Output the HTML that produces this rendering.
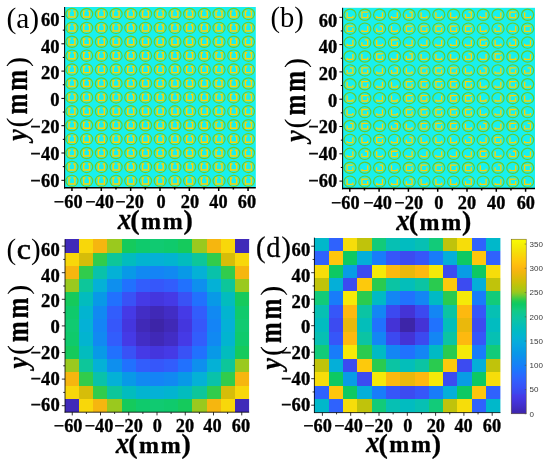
<!DOCTYPE html>
<html lang="en"><head><meta charset="utf-8"><title>Figure</title>
<style>html,body{margin:0;padding:0;background:#fff}svg{display:block}text{white-space:pre}</style>
</head><body>
<svg width="550" height="463" viewBox="0 0 550 463">
<defs><filter id="soft" x="0" y="0" width="100%" height="100%" filterUnits="userSpaceOnUse" color-interpolation-filters="sRGB"><feGaussianBlur stdDeviation="0.45"/></filter></defs>
<g filter="url(#soft)">
<rect x="-5" y="-5" width="560" height="473" fill="#fff"/>
<rect x="64.6" y="7" width="191.2" height="180.8" fill="#18f0ee"/>
<g fill="none" stroke="#70cc24" stroke-width="1.15"><ellipse cx="71.95" cy="13.95" rx="6.05" ry="5.65"/><ellipse cx="86.66" cy="13.95" rx="6.05" ry="5.65"/><ellipse cx="101.37" cy="13.95" rx="6.05" ry="5.65"/><ellipse cx="116.08" cy="13.95" rx="6.05" ry="5.65"/><ellipse cx="130.78" cy="13.95" rx="6.05" ry="5.65"/><ellipse cx="145.49" cy="13.95" rx="6.05" ry="5.65"/><ellipse cx="160.2" cy="13.95" rx="6.05" ry="5.65"/><ellipse cx="174.91" cy="13.95" rx="6.05" ry="5.65"/><ellipse cx="189.62" cy="13.95" rx="6.05" ry="5.65"/><ellipse cx="204.32" cy="13.95" rx="6.05" ry="5.65"/><ellipse cx="219.03" cy="13.95" rx="6.05" ry="5.65"/><ellipse cx="233.74" cy="13.95" rx="6.05" ry="5.65"/><ellipse cx="248.45" cy="13.95" rx="6.05" ry="5.65"/><ellipse cx="71.95" cy="27.86" rx="6.05" ry="5.65"/><ellipse cx="86.66" cy="27.86" rx="6.05" ry="5.65"/><ellipse cx="101.37" cy="27.86" rx="6.05" ry="5.65"/><ellipse cx="116.08" cy="27.86" rx="6.05" ry="5.65"/><ellipse cx="130.78" cy="27.86" rx="6.05" ry="5.65"/><ellipse cx="145.49" cy="27.86" rx="6.05" ry="5.65"/><ellipse cx="160.2" cy="27.86" rx="6.05" ry="5.65"/><ellipse cx="174.91" cy="27.86" rx="6.05" ry="5.65"/><ellipse cx="189.62" cy="27.86" rx="6.05" ry="5.65"/><ellipse cx="204.32" cy="27.86" rx="6.05" ry="5.65"/><ellipse cx="219.03" cy="27.86" rx="6.05" ry="5.65"/><ellipse cx="233.74" cy="27.86" rx="6.05" ry="5.65"/><ellipse cx="248.45" cy="27.86" rx="6.05" ry="5.65"/><ellipse cx="71.95" cy="41.77" rx="6.05" ry="5.65"/><ellipse cx="86.66" cy="41.77" rx="6.05" ry="5.65"/><ellipse cx="101.37" cy="41.77" rx="6.05" ry="5.65"/><ellipse cx="116.08" cy="41.77" rx="6.05" ry="5.65"/><ellipse cx="130.78" cy="41.77" rx="6.05" ry="5.65"/><ellipse cx="145.49" cy="41.77" rx="6.05" ry="5.65"/><ellipse cx="160.2" cy="41.77" rx="6.05" ry="5.65"/><ellipse cx="174.91" cy="41.77" rx="6.05" ry="5.65"/><ellipse cx="189.62" cy="41.77" rx="6.05" ry="5.65"/><ellipse cx="204.32" cy="41.77" rx="6.05" ry="5.65"/><ellipse cx="219.03" cy="41.77" rx="6.05" ry="5.65"/><ellipse cx="233.74" cy="41.77" rx="6.05" ry="5.65"/><ellipse cx="248.45" cy="41.77" rx="6.05" ry="5.65"/><ellipse cx="71.95" cy="55.68" rx="6.05" ry="5.65"/><ellipse cx="86.66" cy="55.68" rx="6.05" ry="5.65"/><ellipse cx="101.37" cy="55.68" rx="6.05" ry="5.65"/><ellipse cx="116.08" cy="55.68" rx="6.05" ry="5.65"/><ellipse cx="130.78" cy="55.68" rx="6.05" ry="5.65"/><ellipse cx="145.49" cy="55.68" rx="6.05" ry="5.65"/><ellipse cx="160.2" cy="55.68" rx="6.05" ry="5.65"/><ellipse cx="174.91" cy="55.68" rx="6.05" ry="5.65"/><ellipse cx="189.62" cy="55.68" rx="6.05" ry="5.65"/><ellipse cx="204.32" cy="55.68" rx="6.05" ry="5.65"/><ellipse cx="219.03" cy="55.68" rx="6.05" ry="5.65"/><ellipse cx="233.74" cy="55.68" rx="6.05" ry="5.65"/><ellipse cx="248.45" cy="55.68" rx="6.05" ry="5.65"/><ellipse cx="71.95" cy="69.58" rx="6.05" ry="5.65"/><ellipse cx="86.66" cy="69.58" rx="6.05" ry="5.65"/><ellipse cx="101.37" cy="69.58" rx="6.05" ry="5.65"/><ellipse cx="116.08" cy="69.58" rx="6.05" ry="5.65"/><ellipse cx="130.78" cy="69.58" rx="6.05" ry="5.65"/><ellipse cx="145.49" cy="69.58" rx="6.05" ry="5.65"/><ellipse cx="160.2" cy="69.58" rx="6.05" ry="5.65"/><ellipse cx="174.91" cy="69.58" rx="6.05" ry="5.65"/><ellipse cx="189.62" cy="69.58" rx="6.05" ry="5.65"/><ellipse cx="204.32" cy="69.58" rx="6.05" ry="5.65"/><ellipse cx="219.03" cy="69.58" rx="6.05" ry="5.65"/><ellipse cx="233.74" cy="69.58" rx="6.05" ry="5.65"/><ellipse cx="248.45" cy="69.58" rx="6.05" ry="5.65"/><ellipse cx="71.95" cy="83.49" rx="6.05" ry="5.65"/><ellipse cx="86.66" cy="83.49" rx="6.05" ry="5.65"/><ellipse cx="101.37" cy="83.49" rx="6.05" ry="5.65"/><ellipse cx="116.08" cy="83.49" rx="6.05" ry="5.65"/><ellipse cx="130.78" cy="83.49" rx="6.05" ry="5.65"/><ellipse cx="145.49" cy="83.49" rx="6.05" ry="5.65"/><ellipse cx="160.2" cy="83.49" rx="6.05" ry="5.65"/><ellipse cx="174.91" cy="83.49" rx="6.05" ry="5.65"/><ellipse cx="189.62" cy="83.49" rx="6.05" ry="5.65"/><ellipse cx="204.32" cy="83.49" rx="6.05" ry="5.65"/><ellipse cx="219.03" cy="83.49" rx="6.05" ry="5.65"/><ellipse cx="233.74" cy="83.49" rx="6.05" ry="5.65"/><ellipse cx="248.45" cy="83.49" rx="6.05" ry="5.65"/><ellipse cx="71.95" cy="97.4" rx="6.05" ry="5.65"/><ellipse cx="86.66" cy="97.4" rx="6.05" ry="5.65"/><ellipse cx="101.37" cy="97.4" rx="6.05" ry="5.65"/><ellipse cx="116.08" cy="97.4" rx="6.05" ry="5.65"/><ellipse cx="130.78" cy="97.4" rx="6.05" ry="5.65"/><ellipse cx="145.49" cy="97.4" rx="6.05" ry="5.65"/><ellipse cx="160.2" cy="97.4" rx="6.05" ry="5.65"/><ellipse cx="174.91" cy="97.4" rx="6.05" ry="5.65"/><ellipse cx="189.62" cy="97.4" rx="6.05" ry="5.65"/><ellipse cx="204.32" cy="97.4" rx="6.05" ry="5.65"/><ellipse cx="219.03" cy="97.4" rx="6.05" ry="5.65"/><ellipse cx="233.74" cy="97.4" rx="6.05" ry="5.65"/><ellipse cx="248.45" cy="97.4" rx="6.05" ry="5.65"/><ellipse cx="71.95" cy="111.31" rx="6.05" ry="5.65"/><ellipse cx="86.66" cy="111.31" rx="6.05" ry="5.65"/><ellipse cx="101.37" cy="111.31" rx="6.05" ry="5.65"/><ellipse cx="116.08" cy="111.31" rx="6.05" ry="5.65"/><ellipse cx="130.78" cy="111.31" rx="6.05" ry="5.65"/><ellipse cx="145.49" cy="111.31" rx="6.05" ry="5.65"/><ellipse cx="160.2" cy="111.31" rx="6.05" ry="5.65"/><ellipse cx="174.91" cy="111.31" rx="6.05" ry="5.65"/><ellipse cx="189.62" cy="111.31" rx="6.05" ry="5.65"/><ellipse cx="204.32" cy="111.31" rx="6.05" ry="5.65"/><ellipse cx="219.03" cy="111.31" rx="6.05" ry="5.65"/><ellipse cx="233.74" cy="111.31" rx="6.05" ry="5.65"/><ellipse cx="248.45" cy="111.31" rx="6.05" ry="5.65"/><ellipse cx="71.95" cy="125.22" rx="6.05" ry="5.65"/><ellipse cx="86.66" cy="125.22" rx="6.05" ry="5.65"/><ellipse cx="101.37" cy="125.22" rx="6.05" ry="5.65"/><ellipse cx="116.08" cy="125.22" rx="6.05" ry="5.65"/><ellipse cx="130.78" cy="125.22" rx="6.05" ry="5.65"/><ellipse cx="145.49" cy="125.22" rx="6.05" ry="5.65"/><ellipse cx="160.2" cy="125.22" rx="6.05" ry="5.65"/><ellipse cx="174.91" cy="125.22" rx="6.05" ry="5.65"/><ellipse cx="189.62" cy="125.22" rx="6.05" ry="5.65"/><ellipse cx="204.32" cy="125.22" rx="6.05" ry="5.65"/><ellipse cx="219.03" cy="125.22" rx="6.05" ry="5.65"/><ellipse cx="233.74" cy="125.22" rx="6.05" ry="5.65"/><ellipse cx="248.45" cy="125.22" rx="6.05" ry="5.65"/><ellipse cx="71.95" cy="139.12" rx="6.05" ry="5.65"/><ellipse cx="86.66" cy="139.12" rx="6.05" ry="5.65"/><ellipse cx="101.37" cy="139.12" rx="6.05" ry="5.65"/><ellipse cx="116.08" cy="139.12" rx="6.05" ry="5.65"/><ellipse cx="130.78" cy="139.12" rx="6.05" ry="5.65"/><ellipse cx="145.49" cy="139.12" rx="6.05" ry="5.65"/><ellipse cx="160.2" cy="139.12" rx="6.05" ry="5.65"/><ellipse cx="174.91" cy="139.12" rx="6.05" ry="5.65"/><ellipse cx="189.62" cy="139.12" rx="6.05" ry="5.65"/><ellipse cx="204.32" cy="139.12" rx="6.05" ry="5.65"/><ellipse cx="219.03" cy="139.12" rx="6.05" ry="5.65"/><ellipse cx="233.74" cy="139.12" rx="6.05" ry="5.65"/><ellipse cx="248.45" cy="139.12" rx="6.05" ry="5.65"/><ellipse cx="71.95" cy="153.03" rx="6.05" ry="5.65"/><ellipse cx="86.66" cy="153.03" rx="6.05" ry="5.65"/><ellipse cx="101.37" cy="153.03" rx="6.05" ry="5.65"/><ellipse cx="116.08" cy="153.03" rx="6.05" ry="5.65"/><ellipse cx="130.78" cy="153.03" rx="6.05" ry="5.65"/><ellipse cx="145.49" cy="153.03" rx="6.05" ry="5.65"/><ellipse cx="160.2" cy="153.03" rx="6.05" ry="5.65"/><ellipse cx="174.91" cy="153.03" rx="6.05" ry="5.65"/><ellipse cx="189.62" cy="153.03" rx="6.05" ry="5.65"/><ellipse cx="204.32" cy="153.03" rx="6.05" ry="5.65"/><ellipse cx="219.03" cy="153.03" rx="6.05" ry="5.65"/><ellipse cx="233.74" cy="153.03" rx="6.05" ry="5.65"/><ellipse cx="248.45" cy="153.03" rx="6.05" ry="5.65"/><ellipse cx="71.95" cy="166.94" rx="6.05" ry="5.65"/><ellipse cx="86.66" cy="166.94" rx="6.05" ry="5.65"/><ellipse cx="101.37" cy="166.94" rx="6.05" ry="5.65"/><ellipse cx="116.08" cy="166.94" rx="6.05" ry="5.65"/><ellipse cx="130.78" cy="166.94" rx="6.05" ry="5.65"/><ellipse cx="145.49" cy="166.94" rx="6.05" ry="5.65"/><ellipse cx="160.2" cy="166.94" rx="6.05" ry="5.65"/><ellipse cx="174.91" cy="166.94" rx="6.05" ry="5.65"/><ellipse cx="189.62" cy="166.94" rx="6.05" ry="5.65"/><ellipse cx="204.32" cy="166.94" rx="6.05" ry="5.65"/><ellipse cx="219.03" cy="166.94" rx="6.05" ry="5.65"/><ellipse cx="233.74" cy="166.94" rx="6.05" ry="5.65"/><ellipse cx="248.45" cy="166.94" rx="6.05" ry="5.65"/><ellipse cx="71.95" cy="180.85" rx="6.05" ry="5.65"/><ellipse cx="86.66" cy="180.85" rx="6.05" ry="5.65"/><ellipse cx="101.37" cy="180.85" rx="6.05" ry="5.65"/><ellipse cx="116.08" cy="180.85" rx="6.05" ry="5.65"/><ellipse cx="130.78" cy="180.85" rx="6.05" ry="5.65"/><ellipse cx="145.49" cy="180.85" rx="6.05" ry="5.65"/><ellipse cx="160.2" cy="180.85" rx="6.05" ry="5.65"/><ellipse cx="174.91" cy="180.85" rx="6.05" ry="5.65"/><ellipse cx="189.62" cy="180.85" rx="6.05" ry="5.65"/><ellipse cx="204.32" cy="180.85" rx="6.05" ry="5.65"/><ellipse cx="219.03" cy="180.85" rx="6.05" ry="5.65"/><ellipse cx="233.74" cy="180.85" rx="6.05" ry="5.65"/><ellipse cx="248.45" cy="180.85" rx="6.05" ry="5.65"/></g>
<path fill="none" stroke="#ffd400" stroke-width="1.45" d="M70.69 11.1H68.95V17H74.95V11.1H73.21M85.4 11.1H83.66V17H89.66V11.1H87.92M100.11 11.1H98.37V17H104.37V11.1H102.63M114.82 11.1H113.08V17H119.08V11.1H117.34M129.52 11.1H127.78V17H133.78V11.1H132.04M144.23 11.1H142.49V17H148.49V11.1H146.75M158.94 11.1H157.2V17H163.2V11.1H161.46M173.65 11.1H171.91V17H177.91V11.1H176.17M188.36 11.1H186.62V17H192.62V11.1H190.88M203.06 11.1H201.32V17H207.32V11.1H205.58M217.77 11.1H216.03V17H222.03V11.1H220.29M232.48 11.1H230.74V17H236.74V11.1H235M247.19 11.1H245.45V17H251.45V11.1H249.71M70.69 25.01H68.95V30.91H74.95V25.01H73.21M85.4 25.01H83.66V30.91H89.66V25.01H87.92M100.11 25.01H98.37V30.91H104.37V25.01H102.63M114.82 25.01H113.08V30.91H119.08V25.01H117.34M129.52 25.01H127.78V30.91H133.78V25.01H132.04M144.23 25.01H142.49V30.91H148.49V25.01H146.75M158.94 25.01H157.2V30.91H163.2V25.01H161.46M173.65 25.01H171.91V30.91H177.91V25.01H176.17M188.36 25.01H186.62V30.91H192.62V25.01H190.88M203.06 25.01H201.32V30.91H207.32V25.01H205.58M217.77 25.01H216.03V30.91H222.03V25.01H220.29M232.48 25.01H230.74V30.91H236.74V25.01H235M247.19 25.01H245.45V30.91H251.45V25.01H249.71M70.69 38.92H68.95V44.82H74.95V38.92H73.21M85.4 38.92H83.66V44.82H89.66V38.92H87.92M100.11 38.92H98.37V44.82H104.37V38.92H102.63M114.82 38.92H113.08V44.82H119.08V38.92H117.34M129.52 38.92H127.78V44.82H133.78V38.92H132.04M144.23 38.92H142.49V44.82H148.49V38.92H146.75M158.94 38.92H157.2V44.82H163.2V38.92H161.46M173.65 38.92H171.91V44.82H177.91V38.92H176.17M188.36 38.92H186.62V44.82H192.62V38.92H190.88M203.06 38.92H201.32V44.82H207.32V38.92H205.58M217.77 38.92H216.03V44.82H222.03V38.92H220.29M232.48 38.92H230.74V44.82H236.74V38.92H235M247.19 38.92H245.45V44.82H251.45V38.92H249.71M70.69 52.83H68.95V58.73H74.95V52.83H73.21M85.4 52.83H83.66V58.73H89.66V52.83H87.92M100.11 52.83H98.37V58.73H104.37V52.83H102.63M114.82 52.83H113.08V58.73H119.08V52.83H117.34M129.52 52.83H127.78V58.73H133.78V52.83H132.04M144.23 52.83H142.49V58.73H148.49V52.83H146.75M158.94 52.83H157.2V58.73H163.2V52.83H161.46M173.65 52.83H171.91V58.73H177.91V52.83H176.17M188.36 52.83H186.62V58.73H192.62V52.83H190.88M203.06 52.83H201.32V58.73H207.32V52.83H205.58M217.77 52.83H216.03V58.73H222.03V52.83H220.29M232.48 52.83H230.74V58.73H236.74V52.83H235M247.19 52.83H245.45V58.73H251.45V52.83H249.71M70.69 66.73H68.95V72.63H74.95V66.73H73.21M85.4 66.73H83.66V72.63H89.66V66.73H87.92M100.11 66.73H98.37V72.63H104.37V66.73H102.63M114.82 66.73H113.08V72.63H119.08V66.73H117.34M129.52 66.73H127.78V72.63H133.78V66.73H132.04M144.23 66.73H142.49V72.63H148.49V66.73H146.75M158.94 66.73H157.2V72.63H163.2V66.73H161.46M173.65 66.73H171.91V72.63H177.91V66.73H176.17M188.36 66.73H186.62V72.63H192.62V66.73H190.88M203.06 66.73H201.32V72.63H207.32V66.73H205.58M217.77 66.73H216.03V72.63H222.03V66.73H220.29M232.48 66.73H230.74V72.63H236.74V66.73H235M247.19 66.73H245.45V72.63H251.45V66.73H249.71M70.69 80.64H68.95V86.54H74.95V80.64H73.21M85.4 80.64H83.66V86.54H89.66V80.64H87.92M100.11 80.64H98.37V86.54H104.37V80.64H102.63M114.82 80.64H113.08V86.54H119.08V80.64H117.34M129.52 80.64H127.78V86.54H133.78V80.64H132.04M144.23 80.64H142.49V86.54H148.49V80.64H146.75M158.94 80.64H157.2V86.54H163.2V80.64H161.46M173.65 80.64H171.91V86.54H177.91V80.64H176.17M188.36 80.64H186.62V86.54H192.62V80.64H190.88M203.06 80.64H201.32V86.54H207.32V80.64H205.58M217.77 80.64H216.03V86.54H222.03V80.64H220.29M232.48 80.64H230.74V86.54H236.74V80.64H235M247.19 80.64H245.45V86.54H251.45V80.64H249.71M70.69 94.55H68.95V100.45H74.95V94.55H73.21M85.4 94.55H83.66V100.45H89.66V94.55H87.92M100.11 94.55H98.37V100.45H104.37V94.55H102.63M114.82 94.55H113.08V100.45H119.08V94.55H117.34M129.52 94.55H127.78V100.45H133.78V94.55H132.04M144.23 94.55H142.49V100.45H148.49V94.55H146.75M158.94 94.55H157.2V100.45H163.2V94.55H161.46M173.65 94.55H171.91V100.45H177.91V94.55H176.17M188.36 94.55H186.62V100.45H192.62V94.55H190.88M203.06 94.55H201.32V100.45H207.32V94.55H205.58M217.77 94.55H216.03V100.45H222.03V94.55H220.29M232.48 94.55H230.74V100.45H236.74V94.55H235M247.19 94.55H245.45V100.45H251.45V94.55H249.71M70.69 108.46H68.95V114.36H74.95V108.46H73.21M85.4 108.46H83.66V114.36H89.66V108.46H87.92M100.11 108.46H98.37V114.36H104.37V108.46H102.63M114.82 108.46H113.08V114.36H119.08V108.46H117.34M129.52 108.46H127.78V114.36H133.78V108.46H132.04M144.23 108.46H142.49V114.36H148.49V108.46H146.75M158.94 108.46H157.2V114.36H163.2V108.46H161.46M173.65 108.46H171.91V114.36H177.91V108.46H176.17M188.36 108.46H186.62V114.36H192.62V108.46H190.88M203.06 108.46H201.32V114.36H207.32V108.46H205.58M217.77 108.46H216.03V114.36H222.03V108.46H220.29M232.48 108.46H230.74V114.36H236.74V108.46H235M247.19 108.46H245.45V114.36H251.45V108.46H249.71M70.69 122.37H68.95V128.27H74.95V122.37H73.21M85.4 122.37H83.66V128.27H89.66V122.37H87.92M100.11 122.37H98.37V128.27H104.37V122.37H102.63M114.82 122.37H113.08V128.27H119.08V122.37H117.34M129.52 122.37H127.78V128.27H133.78V122.37H132.04M144.23 122.37H142.49V128.27H148.49V122.37H146.75M158.94 122.37H157.2V128.27H163.2V122.37H161.46M173.65 122.37H171.91V128.27H177.91V122.37H176.17M188.36 122.37H186.62V128.27H192.62V122.37H190.88M203.06 122.37H201.32V128.27H207.32V122.37H205.58M217.77 122.37H216.03V128.27H222.03V122.37H220.29M232.48 122.37H230.74V128.27H236.74V122.37H235M247.19 122.37H245.45V128.27H251.45V122.37H249.71M70.69 136.27H68.95V142.17H74.95V136.27H73.21M85.4 136.27H83.66V142.17H89.66V136.27H87.92M100.11 136.27H98.37V142.17H104.37V136.27H102.63M114.82 136.27H113.08V142.17H119.08V136.27H117.34M129.52 136.27H127.78V142.17H133.78V136.27H132.04M144.23 136.27H142.49V142.17H148.49V136.27H146.75M158.94 136.27H157.2V142.17H163.2V136.27H161.46M173.65 136.27H171.91V142.17H177.91V136.27H176.17M188.36 136.27H186.62V142.17H192.62V136.27H190.88M203.06 136.27H201.32V142.17H207.32V136.27H205.58M217.77 136.27H216.03V142.17H222.03V136.27H220.29M232.48 136.27H230.74V142.17H236.74V136.27H235M247.19 136.27H245.45V142.17H251.45V136.27H249.71M70.69 150.18H68.95V156.08H74.95V150.18H73.21M85.4 150.18H83.66V156.08H89.66V150.18H87.92M100.11 150.18H98.37V156.08H104.37V150.18H102.63M114.82 150.18H113.08V156.08H119.08V150.18H117.34M129.52 150.18H127.78V156.08H133.78V150.18H132.04M144.23 150.18H142.49V156.08H148.49V150.18H146.75M158.94 150.18H157.2V156.08H163.2V150.18H161.46M173.65 150.18H171.91V156.08H177.91V150.18H176.17M188.36 150.18H186.62V156.08H192.62V150.18H190.88M203.06 150.18H201.32V156.08H207.32V150.18H205.58M217.77 150.18H216.03V156.08H222.03V150.18H220.29M232.48 150.18H230.74V156.08H236.74V150.18H235M247.19 150.18H245.45V156.08H251.45V150.18H249.71M70.69 164.09H68.95V169.99H74.95V164.09H73.21M85.4 164.09H83.66V169.99H89.66V164.09H87.92M100.11 164.09H98.37V169.99H104.37V164.09H102.63M114.82 164.09H113.08V169.99H119.08V164.09H117.34M129.52 164.09H127.78V169.99H133.78V164.09H132.04M144.23 164.09H142.49V169.99H148.49V164.09H146.75M158.94 164.09H157.2V169.99H163.2V164.09H161.46M173.65 164.09H171.91V169.99H177.91V164.09H176.17M188.36 164.09H186.62V169.99H192.62V164.09H190.88M203.06 164.09H201.32V169.99H207.32V164.09H205.58M217.77 164.09H216.03V169.99H222.03V164.09H220.29M232.48 164.09H230.74V169.99H236.74V164.09H235M247.19 164.09H245.45V169.99H251.45V164.09H249.71M70.69 178H68.95V183.9H74.95V178H73.21M85.4 178H83.66V183.9H89.66V178H87.92M100.11 178H98.37V183.9H104.37V178H102.63M114.82 178H113.08V183.9H119.08V178H117.34M129.52 178H127.78V183.9H133.78V178H132.04M144.23 178H142.49V183.9H148.49V178H146.75M158.94 178H157.2V183.9H163.2V178H161.46M173.65 178H171.91V183.9H177.91V178H176.17M188.36 178H186.62V183.9H192.62V178H190.88M203.06 178H201.32V183.9H207.32V178H205.58M217.77 178H216.03V183.9H222.03V178H220.29M232.48 178H230.74V183.9H236.74V178H235M247.19 178H245.45V183.9H251.45V178H249.71"/>
<path fill="none" stroke="#000" stroke-width="1" d="M64.6 7V188.55M64.6 16.5h-3.2M64.6 43.8h-3.2M64.6 71.1h-3.2M64.6 98.4h-3.2M64.6 125.7h-3.2M64.6 153h-3.2M64.6 180.3h-3.2M64.6 30.15h-1.8M64.6 57.45h-1.8M64.6 84.75h-1.8M64.6 112.05h-1.8M64.6 139.35h-1.8M64.6 166.65h-1.8"/>
<path fill="none" stroke="#000" stroke-width="1.5" d="M64.1 187.8H255.8M71.95 187.8v3.2M101.3 187.8v3.2M130.65 187.8v3.2M160 187.8v3.2M189.35 187.8v3.2M218.7 187.8v3.2M248.05 187.8v3.2M86.62 187.8v1.8M115.97 187.8v1.8M145.32 187.8v1.8M174.68 187.8v1.8M204.03 187.8v1.8M233.38 187.8v1.8"/>
<text x="6.4" y="28.3" font-family='"Liberation Serif", serif' font-size="29.5" font-weight="normal" font-style="normal" text-anchor="start" fill="#000">(a)</text>
<text x="59.4" y="25.7" font-family='"Liberation Serif", serif' font-size="18.5" font-weight="bold" font-style="normal" text-anchor="end" fill="#000" stroke="#000" stroke-width="0.35">60</text>
<text x="59.4" y="52.57" font-family='"Liberation Serif", serif' font-size="18.5" font-weight="bold" font-style="normal" text-anchor="end" fill="#000" stroke="#000" stroke-width="0.35">40</text>
<text x="59.4" y="79.44" font-family='"Liberation Serif", serif' font-size="18.5" font-weight="bold" font-style="normal" text-anchor="end" fill="#000" stroke="#000" stroke-width="0.35">20</text>
<text x="59.4" y="106.31" font-family='"Liberation Serif", serif' font-size="18.5" font-weight="bold" font-style="normal" text-anchor="end" fill="#000" stroke="#000" stroke-width="0.35">0</text>
<text x="59.4" y="133.18" font-family='"Liberation Serif", serif' font-size="18.5" font-weight="bold" font-style="normal" text-anchor="end" fill="#000" stroke="#000" stroke-width="0.35">−20</text>
<text x="59.4" y="160.05" font-family='"Liberation Serif", serif' font-size="18.5" font-weight="bold" font-style="normal" text-anchor="end" fill="#000" stroke="#000" stroke-width="0.35">−40</text>
<text x="59.4" y="186.92" font-family='"Liberation Serif", serif' font-size="18.5" font-weight="bold" font-style="normal" text-anchor="end" fill="#000" stroke="#000" stroke-width="0.35">−60</text>
<text x="68.2" y="207.8" font-family='"Liberation Serif", serif' font-size="18.3" font-weight="bold" font-style="normal" text-anchor="middle" fill="#000" stroke="#000" stroke-width="0.35">−60</text>
<text x="99.5" y="207.8" font-family='"Liberation Serif", serif' font-size="18.3" font-weight="bold" font-style="normal" text-anchor="middle" fill="#000" stroke="#000" stroke-width="0.35">−40</text>
<text x="129.5" y="207.8" font-family='"Liberation Serif", serif' font-size="18.3" font-weight="bold" font-style="normal" text-anchor="middle" fill="#000" stroke="#000" stroke-width="0.35">−20</text>
<text x="161" y="207.8" font-family='"Liberation Serif", serif' font-size="18.3" font-weight="bold" font-style="normal" text-anchor="middle" fill="#000" stroke="#000" stroke-width="0.35">0</text>
<text x="190" y="207.8" font-family='"Liberation Serif", serif' font-size="18.3" font-weight="bold" font-style="normal" text-anchor="middle" fill="#000" stroke="#000" stroke-width="0.35">20</text>
<text x="218.5" y="207.8" font-family='"Liberation Serif", serif' font-size="18.3" font-weight="bold" font-style="normal" text-anchor="middle" fill="#000" stroke="#000" stroke-width="0.35">40</text>
<text x="247" y="207.8" font-family='"Liberation Serif", serif' font-size="18.3" font-weight="bold" font-style="normal" text-anchor="middle" fill="#000" stroke="#000" stroke-width="0.35">60</text>
<text font-family='"Liberation Serif", serif' font-weight="bold" stroke="#000" stroke-width="0.3"><tspan x="117.7" y="229" font-size="29.7" font-style="italic" textLength="13.5" lengthAdjust="spacingAndGlyphs">x</tspan><tspan x="130.2" y="229.4" font-size="28">(</tspan><tspan x="140.9" y="229" font-size="24">m</tspan><tspan x="162.7" y="229" font-size="24">m</tspan><tspan x="183.4" y="229.4" font-size="28">)</tspan></text>
<text transform="translate(27.1 0) rotate(-90)" font-family='"Liberation Serif", serif' font-weight="bold" stroke="#000" stroke-width="0.3"><tspan x="-140.8" y="0" font-size="28.6" font-style="italic" textLength="11.55" lengthAdjust="spacingAndGlyphs">y</tspan><tspan x="-127.4" y="0" font-size="30" font-weight="normal" stroke="#000" stroke-width="0">(</tspan><tspan x="-114.5" y="0" font-size="31" textLength="20.83" lengthAdjust="spacingAndGlyphs">m</tspan><tspan x="-90.7" y="0" font-size="31" textLength="20.83" lengthAdjust="spacingAndGlyphs">m</tspan><tspan x="-67.1" y="0" font-size="30" font-weight="normal" stroke="#000" stroke-width="0">)</tspan></text>
<rect x="342.6" y="7.8" width="192.4" height="180.8" fill="#18f0ee"/>
<g fill="none" stroke="#66ca2c" stroke-width="1.15"><ellipse cx="350" cy="14.75" rx="6.05" ry="5.65"/><ellipse cx="364.8" cy="14.75" rx="6.05" ry="5.65"/><ellipse cx="379.6" cy="14.75" rx="6.05" ry="5.65"/><ellipse cx="394.4" cy="14.75" rx="6.05" ry="5.65"/><ellipse cx="409.2" cy="14.75" rx="6.05" ry="5.65"/><ellipse cx="424" cy="14.75" rx="6.05" ry="5.65"/><ellipse cx="438.8" cy="14.75" rx="6.05" ry="5.65"/><ellipse cx="453.6" cy="14.75" rx="6.05" ry="5.65"/><ellipse cx="468.4" cy="14.75" rx="6.05" ry="5.65"/><ellipse cx="483.2" cy="14.75" rx="6.05" ry="5.65"/><ellipse cx="498" cy="14.75" rx="6.05" ry="5.65"/><ellipse cx="512.8" cy="14.75" rx="6.05" ry="5.65"/><ellipse cx="527.6" cy="14.75" rx="6.05" ry="5.65"/><ellipse cx="350" cy="28.66" rx="6.05" ry="5.65"/><ellipse cx="364.8" cy="28.66" rx="6.05" ry="5.65"/><ellipse cx="379.6" cy="28.66" rx="6.05" ry="5.65"/><ellipse cx="394.4" cy="28.66" rx="6.05" ry="5.65"/><ellipse cx="409.2" cy="28.66" rx="6.05" ry="5.65"/><ellipse cx="424" cy="28.66" rx="6.05" ry="5.65"/><ellipse cx="438.8" cy="28.66" rx="6.05" ry="5.65"/><ellipse cx="453.6" cy="28.66" rx="6.05" ry="5.65"/><ellipse cx="468.4" cy="28.66" rx="6.05" ry="5.65"/><ellipse cx="483.2" cy="28.66" rx="6.05" ry="5.65"/><ellipse cx="498" cy="28.66" rx="6.05" ry="5.65"/><ellipse cx="512.8" cy="28.66" rx="6.05" ry="5.65"/><ellipse cx="527.6" cy="28.66" rx="6.05" ry="5.65"/><ellipse cx="350" cy="42.57" rx="6.05" ry="5.65"/><ellipse cx="364.8" cy="42.57" rx="6.05" ry="5.65"/><ellipse cx="379.6" cy="42.57" rx="6.05" ry="5.65"/><ellipse cx="394.4" cy="42.57" rx="6.05" ry="5.65"/><ellipse cx="409.2" cy="42.57" rx="6.05" ry="5.65"/><ellipse cx="424" cy="42.57" rx="6.05" ry="5.65"/><ellipse cx="438.8" cy="42.57" rx="6.05" ry="5.65"/><ellipse cx="453.6" cy="42.57" rx="6.05" ry="5.65"/><ellipse cx="468.4" cy="42.57" rx="6.05" ry="5.65"/><ellipse cx="483.2" cy="42.57" rx="6.05" ry="5.65"/><ellipse cx="498" cy="42.57" rx="6.05" ry="5.65"/><ellipse cx="512.8" cy="42.57" rx="6.05" ry="5.65"/><ellipse cx="527.6" cy="42.57" rx="6.05" ry="5.65"/><ellipse cx="350" cy="56.48" rx="6.05" ry="5.65"/><ellipse cx="364.8" cy="56.48" rx="6.05" ry="5.65"/><ellipse cx="379.6" cy="56.48" rx="6.05" ry="5.65"/><ellipse cx="394.4" cy="56.48" rx="6.05" ry="5.65"/><ellipse cx="409.2" cy="56.48" rx="6.05" ry="5.65"/><ellipse cx="424" cy="56.48" rx="6.05" ry="5.65"/><ellipse cx="438.8" cy="56.48" rx="6.05" ry="5.65"/><ellipse cx="453.6" cy="56.48" rx="6.05" ry="5.65"/><ellipse cx="468.4" cy="56.48" rx="6.05" ry="5.65"/><ellipse cx="483.2" cy="56.48" rx="6.05" ry="5.65"/><ellipse cx="498" cy="56.48" rx="6.05" ry="5.65"/><ellipse cx="512.8" cy="56.48" rx="6.05" ry="5.65"/><ellipse cx="527.6" cy="56.48" rx="6.05" ry="5.65"/><ellipse cx="350" cy="70.38" rx="6.05" ry="5.65"/><ellipse cx="364.8" cy="70.38" rx="6.05" ry="5.65"/><ellipse cx="379.6" cy="70.38" rx="6.05" ry="5.65"/><ellipse cx="394.4" cy="70.38" rx="6.05" ry="5.65"/><ellipse cx="409.2" cy="70.38" rx="6.05" ry="5.65"/><ellipse cx="424" cy="70.38" rx="6.05" ry="5.65"/><ellipse cx="438.8" cy="70.38" rx="6.05" ry="5.65"/><ellipse cx="453.6" cy="70.38" rx="6.05" ry="5.65"/><ellipse cx="468.4" cy="70.38" rx="6.05" ry="5.65"/><ellipse cx="483.2" cy="70.38" rx="6.05" ry="5.65"/><ellipse cx="498" cy="70.38" rx="6.05" ry="5.65"/><ellipse cx="512.8" cy="70.38" rx="6.05" ry="5.65"/><ellipse cx="527.6" cy="70.38" rx="6.05" ry="5.65"/><ellipse cx="350" cy="84.29" rx="6.05" ry="5.65"/><ellipse cx="364.8" cy="84.29" rx="6.05" ry="5.65"/><ellipse cx="379.6" cy="84.29" rx="6.05" ry="5.65"/><ellipse cx="394.4" cy="84.29" rx="6.05" ry="5.65"/><ellipse cx="409.2" cy="84.29" rx="6.05" ry="5.65"/><ellipse cx="424" cy="84.29" rx="6.05" ry="5.65"/><ellipse cx="438.8" cy="84.29" rx="6.05" ry="5.65"/><ellipse cx="453.6" cy="84.29" rx="6.05" ry="5.65"/><ellipse cx="468.4" cy="84.29" rx="6.05" ry="5.65"/><ellipse cx="483.2" cy="84.29" rx="6.05" ry="5.65"/><ellipse cx="498" cy="84.29" rx="6.05" ry="5.65"/><ellipse cx="512.8" cy="84.29" rx="6.05" ry="5.65"/><ellipse cx="527.6" cy="84.29" rx="6.05" ry="5.65"/><ellipse cx="350" cy="98.2" rx="6.05" ry="5.65"/><ellipse cx="364.8" cy="98.2" rx="6.05" ry="5.65"/><ellipse cx="379.6" cy="98.2" rx="6.05" ry="5.65"/><ellipse cx="394.4" cy="98.2" rx="6.05" ry="5.65"/><ellipse cx="409.2" cy="98.2" rx="6.05" ry="5.65"/><ellipse cx="424" cy="98.2" rx="6.05" ry="5.65"/><ellipse cx="438.8" cy="98.2" rx="6.05" ry="5.65"/><ellipse cx="453.6" cy="98.2" rx="6.05" ry="5.65"/><ellipse cx="468.4" cy="98.2" rx="6.05" ry="5.65"/><ellipse cx="483.2" cy="98.2" rx="6.05" ry="5.65"/><ellipse cx="498" cy="98.2" rx="6.05" ry="5.65"/><ellipse cx="512.8" cy="98.2" rx="6.05" ry="5.65"/><ellipse cx="527.6" cy="98.2" rx="6.05" ry="5.65"/><ellipse cx="350" cy="112.11" rx="6.05" ry="5.65"/><ellipse cx="364.8" cy="112.11" rx="6.05" ry="5.65"/><ellipse cx="379.6" cy="112.11" rx="6.05" ry="5.65"/><ellipse cx="394.4" cy="112.11" rx="6.05" ry="5.65"/><ellipse cx="409.2" cy="112.11" rx="6.05" ry="5.65"/><ellipse cx="424" cy="112.11" rx="6.05" ry="5.65"/><ellipse cx="438.8" cy="112.11" rx="6.05" ry="5.65"/><ellipse cx="453.6" cy="112.11" rx="6.05" ry="5.65"/><ellipse cx="468.4" cy="112.11" rx="6.05" ry="5.65"/><ellipse cx="483.2" cy="112.11" rx="6.05" ry="5.65"/><ellipse cx="498" cy="112.11" rx="6.05" ry="5.65"/><ellipse cx="512.8" cy="112.11" rx="6.05" ry="5.65"/><ellipse cx="527.6" cy="112.11" rx="6.05" ry="5.65"/><ellipse cx="350" cy="126.02" rx="6.05" ry="5.65"/><ellipse cx="364.8" cy="126.02" rx="6.05" ry="5.65"/><ellipse cx="379.6" cy="126.02" rx="6.05" ry="5.65"/><ellipse cx="394.4" cy="126.02" rx="6.05" ry="5.65"/><ellipse cx="409.2" cy="126.02" rx="6.05" ry="5.65"/><ellipse cx="424" cy="126.02" rx="6.05" ry="5.65"/><ellipse cx="438.8" cy="126.02" rx="6.05" ry="5.65"/><ellipse cx="453.6" cy="126.02" rx="6.05" ry="5.65"/><ellipse cx="468.4" cy="126.02" rx="6.05" ry="5.65"/><ellipse cx="483.2" cy="126.02" rx="6.05" ry="5.65"/><ellipse cx="498" cy="126.02" rx="6.05" ry="5.65"/><ellipse cx="512.8" cy="126.02" rx="6.05" ry="5.65"/><ellipse cx="527.6" cy="126.02" rx="6.05" ry="5.65"/><ellipse cx="350" cy="139.92" rx="6.05" ry="5.65"/><ellipse cx="364.8" cy="139.92" rx="6.05" ry="5.65"/><ellipse cx="379.6" cy="139.92" rx="6.05" ry="5.65"/><ellipse cx="394.4" cy="139.92" rx="6.05" ry="5.65"/><ellipse cx="409.2" cy="139.92" rx="6.05" ry="5.65"/><ellipse cx="424" cy="139.92" rx="6.05" ry="5.65"/><ellipse cx="438.8" cy="139.92" rx="6.05" ry="5.65"/><ellipse cx="453.6" cy="139.92" rx="6.05" ry="5.65"/><ellipse cx="468.4" cy="139.92" rx="6.05" ry="5.65"/><ellipse cx="483.2" cy="139.92" rx="6.05" ry="5.65"/><ellipse cx="498" cy="139.92" rx="6.05" ry="5.65"/><ellipse cx="512.8" cy="139.92" rx="6.05" ry="5.65"/><ellipse cx="527.6" cy="139.92" rx="6.05" ry="5.65"/><ellipse cx="350" cy="153.83" rx="6.05" ry="5.65"/><ellipse cx="364.8" cy="153.83" rx="6.05" ry="5.65"/><ellipse cx="379.6" cy="153.83" rx="6.05" ry="5.65"/><ellipse cx="394.4" cy="153.83" rx="6.05" ry="5.65"/><ellipse cx="409.2" cy="153.83" rx="6.05" ry="5.65"/><ellipse cx="424" cy="153.83" rx="6.05" ry="5.65"/><ellipse cx="438.8" cy="153.83" rx="6.05" ry="5.65"/><ellipse cx="453.6" cy="153.83" rx="6.05" ry="5.65"/><ellipse cx="468.4" cy="153.83" rx="6.05" ry="5.65"/><ellipse cx="483.2" cy="153.83" rx="6.05" ry="5.65"/><ellipse cx="498" cy="153.83" rx="6.05" ry="5.65"/><ellipse cx="512.8" cy="153.83" rx="6.05" ry="5.65"/><ellipse cx="527.6" cy="153.83" rx="6.05" ry="5.65"/><ellipse cx="350" cy="167.74" rx="6.05" ry="5.65"/><ellipse cx="364.8" cy="167.74" rx="6.05" ry="5.65"/><ellipse cx="379.6" cy="167.74" rx="6.05" ry="5.65"/><ellipse cx="394.4" cy="167.74" rx="6.05" ry="5.65"/><ellipse cx="409.2" cy="167.74" rx="6.05" ry="5.65"/><ellipse cx="424" cy="167.74" rx="6.05" ry="5.65"/><ellipse cx="438.8" cy="167.74" rx="6.05" ry="5.65"/><ellipse cx="453.6" cy="167.74" rx="6.05" ry="5.65"/><ellipse cx="468.4" cy="167.74" rx="6.05" ry="5.65"/><ellipse cx="483.2" cy="167.74" rx="6.05" ry="5.65"/><ellipse cx="498" cy="167.74" rx="6.05" ry="5.65"/><ellipse cx="512.8" cy="167.74" rx="6.05" ry="5.65"/><ellipse cx="527.6" cy="167.74" rx="6.05" ry="5.65"/><ellipse cx="350" cy="181.65" rx="6.05" ry="5.65"/><ellipse cx="364.8" cy="181.65" rx="6.05" ry="5.65"/><ellipse cx="379.6" cy="181.65" rx="6.05" ry="5.65"/><ellipse cx="394.4" cy="181.65" rx="6.05" ry="5.65"/><ellipse cx="409.2" cy="181.65" rx="6.05" ry="5.65"/><ellipse cx="424" cy="181.65" rx="6.05" ry="5.65"/><ellipse cx="438.8" cy="181.65" rx="6.05" ry="5.65"/><ellipse cx="453.6" cy="181.65" rx="6.05" ry="5.65"/><ellipse cx="468.4" cy="181.65" rx="6.05" ry="5.65"/><ellipse cx="483.2" cy="181.65" rx="6.05" ry="5.65"/><ellipse cx="498" cy="181.65" rx="6.05" ry="5.65"/><ellipse cx="512.8" cy="181.65" rx="6.05" ry="5.65"/><ellipse cx="527.6" cy="181.65" rx="6.05" ry="5.65"/></g>
<path fill="none" stroke="#ffd400" stroke-width="1.3" d="M347.1 12.15V17.55H352.9V15.66M367.7 14.18V17.55H361.9V12.15H367.7V12.56M382.5 12.15V17.55H376.7V15.93M397.3 12.15V17.55H391.5V15.93M409.2 12.15H412.1V17.55H406.3V14.31M421.1 12.15V17.55H426.9V15.66M435.9 12.15V17.55H441.7V15.66M450.7 12.15V17.55H456.5V15.66M468.4 12.15H471.3V17.55H465.5V14.31M486.1 12.15V17.55H480.3V15.93M500.9 12.15V17.55H495.1V15.93M515.7 14.18V17.55H509.9V12.15H515.7V12.56M524.7 12.15V17.55H530.5V15.66M352.9 28.09V31.46H347.1V26.06H352.9V26.47M367.7 26.06V31.46H361.9V29.84M379.6 26.06H382.5V31.46H376.7V28.22M391.5 26.06V31.46H397.3V29.57M412.1 28.09V31.46H406.3V26.06H412.1V26.47M426.9 28.09V31.46H421.1V26.06H426.9V26.47M441.7 28.09V31.46H435.9V26.06H441.7V26.47M456.5 28.09V31.46H450.7V26.06H456.5V26.47M471.3 28.09V31.46H465.5V26.06H471.3V26.47M480.3 26.06V31.46H486.1V29.57M498 26.06H500.9V31.46H495.1V28.22M515.7 26.06V31.46H509.9V29.84M530.5 28.09V31.46H524.7V26.06H530.5V26.47M352.9 39.97V45.37H347.1V43.75M364.8 39.97H367.7V45.37H361.9V42.13M376.7 39.97V45.37H382.5V43.48M397.3 41.99V45.37H391.5V39.97H397.3V40.37M412.1 39.97V45.37H406.3V43.75M426.9 39.97V45.37H421.1V43.75M441.7 39.97V45.37H435.9V43.75M456.5 39.97V45.37H450.7V43.75M471.3 39.97V45.37H465.5V43.75M486.1 41.99V45.37H480.3V39.97H486.1V40.37M495.1 39.97V45.37H500.9V43.48M512.8 39.97H515.7V45.37H509.9V42.13M530.5 39.97V45.37H524.7V43.75M352.9 53.88V59.28H347.1V57.66M361.9 53.88V59.28H367.7V57.39M382.5 55.9V59.28H376.7V53.88H382.5V54.28M397.3 53.88V59.28H391.5V57.66M409.2 53.88H412.1V59.28H406.3V56.04M421.1 53.88V59.28H426.9V57.39M435.9 53.88V59.28H441.7V57.39M450.7 53.88V59.28H456.5V57.39M468.4 53.88H471.3V59.28H465.5V56.04M486.1 53.88V59.28H480.3V57.66M500.9 55.9V59.28H495.1V53.88H500.9V54.28M509.9 53.88V59.28H515.7V57.39M530.5 53.88V59.28H524.7V57.66M350 67.78H352.9V73.18H347.1V69.94M367.7 69.81V73.18H361.9V67.78H367.7V68.19M382.5 67.78V73.18H376.7V71.56M394.4 67.78H397.3V73.18H391.5V69.94M406.3 67.78V73.18H412.1V71.29M426.9 69.81V73.18H421.1V67.78H426.9V68.19M441.7 69.81V73.18H435.9V67.78H441.7V68.19M456.5 69.81V73.18H450.7V67.78H456.5V68.19M465.5 67.78V73.18H471.3V71.29M483.2 67.78H486.1V73.18H480.3V69.94M500.9 67.78V73.18H495.1V71.56M515.7 69.81V73.18H509.9V67.78H515.7V68.19M527.6 67.78H530.5V73.18H524.7V69.94M347.1 81.69V87.09H352.9V85.2M367.7 83.72V87.09H361.9V81.69H367.7V82.1M382.5 81.69V87.09H376.7V85.47M391.5 81.69V87.09H397.3V85.2M412.1 83.72V87.09H406.3V81.69H412.1V82.1M426.9 83.72V87.09H421.1V81.69H426.9V82.1M441.7 83.72V87.09H435.9V81.69H441.7V82.1M456.5 83.72V87.09H450.7V81.69H456.5V82.1M471.3 83.72V87.09H465.5V81.69H471.3V82.1M480.3 81.69V87.09H486.1V85.2M500.9 81.69V87.09H495.1V85.47M515.7 83.72V87.09H509.9V81.69H515.7V82.1M524.7 81.69V87.09H530.5V85.2M347.1 95.6V101H352.9V99.11M367.7 97.62V101H361.9V95.6H367.7V96M382.5 95.6V101H376.7V99.38M391.5 95.6V101H397.3V99.11M412.1 97.62V101H406.3V95.6H412.1V96M426.9 97.62V101H421.1V95.6H426.9V96M441.7 95.6V101H435.9V99.38M456.5 97.62V101H450.7V95.6H456.5V96M471.3 97.62V101H465.5V95.6H471.3V96M480.3 95.6V101H486.1V99.11M500.9 95.6V101H495.1V99.38M515.7 97.62V101H509.9V95.6H515.7V96M524.7 95.6V101H530.5V99.11M347.1 109.51V114.91H352.9V113.02M367.7 111.53V114.91H361.9V109.51H367.7V109.91M382.5 109.51V114.91H376.7V113.29M391.5 109.51V114.91H397.3V113.02M412.1 111.53V114.91H406.3V109.51H412.1V109.91M426.9 111.53V114.91H421.1V109.51H426.9V109.91M441.7 111.53V114.91H435.9V109.51H441.7V109.91M456.5 111.53V114.91H450.7V109.51H456.5V109.91M471.3 111.53V114.91H465.5V109.51H471.3V109.91M480.3 109.51V114.91H486.1V113.02M500.9 109.51V114.91H495.1V113.29M515.7 111.53V114.91H509.9V109.51H515.7V109.91M524.7 109.51V114.91H530.5V113.02M350 123.42H352.9V128.82H347.1V125.58M367.7 125.44V128.82H361.9V123.42H367.7V123.82M382.5 123.42V128.82H376.7V127.2M394.4 123.42H397.3V128.82H391.5V125.58M406.3 123.42V128.82H412.1V126.93M426.9 125.44V128.82H421.1V123.42H426.9V123.82M441.7 125.44V128.82H435.9V123.42H441.7V123.82M456.5 125.44V128.82H450.7V123.42H456.5V123.82M465.5 123.42V128.82H471.3V126.93M483.2 123.42H486.1V128.82H480.3V125.58M500.9 123.42V128.82H495.1V127.2M515.7 125.44V128.82H509.9V123.42H515.7V123.82M527.6 123.42H530.5V128.82H524.7V125.58M352.9 137.32V142.72H347.1V141.1M361.9 137.32V142.72H367.7V140.83M382.5 139.35V142.72H376.7V137.32H382.5V137.73M397.3 137.32V142.72H391.5V141.1M409.2 137.32H412.1V142.72H406.3V139.48M421.1 137.32V142.72H426.9V140.83M435.9 137.32V142.72H441.7V140.83M450.7 137.32V142.72H456.5V140.83M468.4 137.32H471.3V142.72H465.5V139.48M486.1 137.32V142.72H480.3V141.1M500.9 139.35V142.72H495.1V137.32H500.9V137.73M509.9 137.32V142.72H515.7V140.83M530.5 137.32V142.72H524.7V141.1M352.9 151.23V156.63H347.1V155.01M364.8 151.23H367.7V156.63H361.9V153.39M376.7 151.23V156.63H382.5V154.74M397.3 153.26V156.63H391.5V151.23H397.3V151.64M412.1 151.23V156.63H406.3V155.01M426.9 151.23V156.63H421.1V155.01M441.7 151.23V156.63H435.9V155.01M456.5 151.23V156.63H450.7V155.01M471.3 151.23V156.63H465.5V155.01M486.1 153.26V156.63H480.3V151.23H486.1V151.64M495.1 151.23V156.63H500.9V154.74M512.8 151.23H515.7V156.63H509.9V153.39M530.5 151.23V156.63H524.7V155.01M352.9 167.16V170.54H347.1V165.14H352.9V165.54M367.7 165.14V170.54H361.9V168.92M379.6 165.14H382.5V170.54H376.7V167.3M391.5 165.14V170.54H397.3V168.65M412.1 167.16V170.54H406.3V165.14H412.1V165.54M426.9 167.16V170.54H421.1V165.14H426.9V165.54M441.7 167.16V170.54H435.9V165.14H441.7V165.54M456.5 167.16V170.54H450.7V165.14H456.5V165.54M471.3 167.16V170.54H465.5V165.14H471.3V165.54M480.3 165.14V170.54H486.1V168.65M498 165.14H500.9V170.54H495.1V167.3M515.7 165.14V170.54H509.9V168.92M530.5 167.16V170.54H524.7V165.14H530.5V165.54M347.1 179.05V184.45H352.9V182.56M367.7 181.07V184.45H361.9V179.05H367.7V179.45M382.5 179.05V184.45H376.7V182.83M397.3 179.05V184.45H391.5V182.83M409.2 179.05H412.1V184.45H406.3V181.21M421.1 179.05V184.45H426.9V182.56M435.9 179.05V184.45H441.7V182.56M450.7 179.05V184.45H456.5V182.56M468.4 179.05H471.3V184.45H465.5V181.21M486.1 179.05V184.45H480.3V182.83M500.9 179.05V184.45H495.1V182.83M515.7 181.07V184.45H509.9V179.05H515.7V179.45M524.7 179.05V184.45H530.5V182.56"/>
<path fill="none" stroke="#000" stroke-width="1" d="M342.6 7.8V189.35M342.6 17.3h-3.2M342.6 44.6h-3.2M342.6 71.9h-3.2M342.6 99.2h-3.2M342.6 126.5h-3.2M342.6 153.8h-3.2M342.6 181.1h-3.2M342.6 30.95h-1.8M342.6 58.25h-1.8M342.6 85.55h-1.8M342.6 112.85h-1.8M342.6 140.15h-1.8M342.6 167.45h-1.8"/>
<path fill="none" stroke="#000" stroke-width="1.5" d="M342.1 188.6H535M349.8 188.6v3.2M379.1 188.6v3.2M408.4 188.6v3.2M437.7 188.6v3.2M467 188.6v3.2M496.3 188.6v3.2M525.6 188.6v3.2M364.45 188.6v1.8M393.75 188.6v1.8M423.05 188.6v1.8M452.35 188.6v1.8M481.65 188.6v1.8M510.95 188.6v1.8"/>
<text x="270.4" y="27.3" font-family='"Liberation Serif", serif' font-size="28.6" font-weight="normal" font-style="normal" text-anchor="start" fill="#000">(b)</text>
<text x="337.2" y="26.5" font-family='"Liberation Serif", serif' font-size="18.5" font-weight="bold" font-style="normal" text-anchor="end" fill="#000" stroke="#000" stroke-width="0.35">60</text>
<text x="337.2" y="53.22" font-family='"Liberation Serif", serif' font-size="18.5" font-weight="bold" font-style="normal" text-anchor="end" fill="#000" stroke="#000" stroke-width="0.35">40</text>
<text x="337.2" y="79.94" font-family='"Liberation Serif", serif' font-size="18.5" font-weight="bold" font-style="normal" text-anchor="end" fill="#000" stroke="#000" stroke-width="0.35">20</text>
<text x="337.2" y="106.66" font-family='"Liberation Serif", serif' font-size="18.5" font-weight="bold" font-style="normal" text-anchor="end" fill="#000" stroke="#000" stroke-width="0.35">0</text>
<text x="337.2" y="133.38" font-family='"Liberation Serif", serif' font-size="18.5" font-weight="bold" font-style="normal" text-anchor="end" fill="#000" stroke="#000" stroke-width="0.35">−20</text>
<text x="337.2" y="160.1" font-family='"Liberation Serif", serif' font-size="18.5" font-weight="bold" font-style="normal" text-anchor="end" fill="#000" stroke="#000" stroke-width="0.35">−40</text>
<text x="337.2" y="186.82" font-family='"Liberation Serif", serif' font-size="18.5" font-weight="bold" font-style="normal" text-anchor="end" fill="#000" stroke="#000" stroke-width="0.35">−60</text>
<text x="345.3" y="209.3" font-family='"Liberation Serif", serif' font-size="18.3" font-weight="bold" font-style="normal" text-anchor="middle" fill="#000" stroke="#000" stroke-width="0.35">−60</text>
<text x="377.5" y="209.3" font-family='"Liberation Serif", serif' font-size="18.3" font-weight="bold" font-style="normal" text-anchor="middle" fill="#000" stroke="#000" stroke-width="0.35">−40</text>
<text x="408.7" y="209.3" font-family='"Liberation Serif", serif' font-size="18.3" font-weight="bold" font-style="normal" text-anchor="middle" fill="#000" stroke="#000" stroke-width="0.35">−20</text>
<text x="438.7" y="209.3" font-family='"Liberation Serif", serif' font-size="18.3" font-weight="bold" font-style="normal" text-anchor="middle" fill="#000" stroke="#000" stroke-width="0.35">0</text>
<text x="467" y="209.3" font-family='"Liberation Serif", serif' font-size="18.3" font-weight="bold" font-style="normal" text-anchor="middle" fill="#000" stroke="#000" stroke-width="0.35">20</text>
<text x="496.2" y="209.3" font-family='"Liberation Serif", serif' font-size="18.3" font-weight="bold" font-style="normal" text-anchor="middle" fill="#000" stroke="#000" stroke-width="0.35">40</text>
<text x="525.8" y="209.3" font-family='"Liberation Serif", serif' font-size="18.3" font-weight="bold" font-style="normal" text-anchor="middle" fill="#000" stroke="#000" stroke-width="0.35">60</text>
<text font-family='"Liberation Serif", serif' font-weight="bold" stroke="#000" stroke-width="0.3"><tspan x="396.2" y="229.5" font-size="29.7" font-style="italic" textLength="13.5" lengthAdjust="spacingAndGlyphs">x</tspan><tspan x="408.7" y="229.9" font-size="28">(</tspan><tspan x="419.4" y="229.5" font-size="24">m</tspan><tspan x="441.2" y="229.5" font-size="24">m</tspan><tspan x="461.9" y="229.9" font-size="28">)</tspan></text>
<text transform="translate(305 1) rotate(-90)" font-family='"Liberation Serif", serif' font-weight="bold" stroke="#000" stroke-width="0.3"><tspan x="-140.8" y="0" font-size="28.6" font-style="italic" textLength="11.55" lengthAdjust="spacingAndGlyphs">y</tspan><tspan x="-127.4" y="0" font-size="30" font-weight="normal" stroke="#000" stroke-width="0">(</tspan><tspan x="-114.5" y="0" font-size="31" textLength="20.83" lengthAdjust="spacingAndGlyphs">m</tspan><tspan x="-90.7" y="0" font-size="31" textLength="20.83" lengthAdjust="spacingAndGlyphs">m</tspan><tspan x="-67.1" y="0" font-size="30" font-weight="normal" stroke="#000" stroke-width="0">)</tspan></text>
<g shape-rendering="crispEdges">
<rect x="65" y="239.2" width="14.66" height="13.81" fill="#402ab9"/>
<rect x="79.16" y="239.2" width="14.66" height="13.81" fill="#f8d70a"/>
<rect x="93.32" y="239.2" width="14.66" height="13.81" fill="#f6b60f"/>
<rect x="107.48" y="239.2" width="14.66" height="13.81" fill="#9ac91e"/>
<rect x="121.65" y="239.2" width="14.66" height="13.81" fill="#15ca5c"/>
<rect x="135.81" y="239.2" width="14.66" height="13.81" fill="#0fca6c"/>
<rect x="149.97" y="239.2" width="14.66" height="13.81" fill="#10ca71"/>
<rect x="164.13" y="239.2" width="14.66" height="13.81" fill="#0fca6c"/>
<rect x="178.29" y="239.2" width="14.66" height="13.81" fill="#15ca5c"/>
<rect x="192.45" y="239.2" width="14.66" height="13.81" fill="#9ac91e"/>
<rect x="206.62" y="239.2" width="14.66" height="13.81" fill="#f6b60f"/>
<rect x="220.78" y="239.2" width="14.66" height="13.81" fill="#f8d70a"/>
<rect x="234.94" y="239.2" width="14.66" height="13.81" fill="#402ab9"/>
<rect x="65" y="252.51" width="14.66" height="13.81" fill="#f8d70a"/>
<rect x="79.16" y="252.51" width="14.66" height="13.81" fill="#d6bd09"/>
<rect x="93.32" y="252.51" width="14.66" height="13.81" fill="#31cc4c"/>
<rect x="107.48" y="252.51" width="14.66" height="13.81" fill="#0dc69a"/>
<rect x="121.65" y="252.51" width="14.66" height="13.81" fill="#02bcbe"/>
<rect x="135.81" y="252.51" width="14.66" height="13.81" fill="#02b4d0"/>
<rect x="149.97" y="252.51" width="14.66" height="13.81" fill="#04b1d6"/>
<rect x="164.13" y="252.51" width="14.66" height="13.81" fill="#02b4d0"/>
<rect x="178.29" y="252.51" width="14.66" height="13.81" fill="#02bcbe"/>
<rect x="192.45" y="252.51" width="14.66" height="13.81" fill="#0dc69a"/>
<rect x="206.62" y="252.51" width="14.66" height="13.81" fill="#31cc4c"/>
<rect x="220.78" y="252.51" width="14.66" height="13.81" fill="#d6bd09"/>
<rect x="234.94" y="252.51" width="14.66" height="13.81" fill="#f8d70a"/>
<rect x="65" y="265.82" width="14.66" height="13.81" fill="#f6b60f"/>
<rect x="79.16" y="265.82" width="14.66" height="13.81" fill="#31cc4c"/>
<rect x="93.32" y="265.82" width="14.66" height="13.81" fill="#09c2aa"/>
<rect x="107.48" y="265.82" width="14.66" height="13.81" fill="#04b1d6"/>
<rect x="121.65" y="265.82" width="14.66" height="13.81" fill="#0899e7"/>
<rect x="135.81" y="265.82" width="14.66" height="13.81" fill="#1189f2"/>
<rect x="149.97" y="265.82" width="14.66" height="13.81" fill="#1484f6"/>
<rect x="164.13" y="265.82" width="14.66" height="13.81" fill="#1189f2"/>
<rect x="178.29" y="265.82" width="14.66" height="13.81" fill="#0899e7"/>
<rect x="192.45" y="265.82" width="14.66" height="13.81" fill="#04b1d6"/>
<rect x="206.62" y="265.82" width="14.66" height="13.81" fill="#09c2aa"/>
<rect x="220.78" y="265.82" width="14.66" height="13.81" fill="#31cc4c"/>
<rect x="234.94" y="265.82" width="14.66" height="13.81" fill="#f6b60f"/>
<rect x="65" y="279.12" width="14.66" height="13.81" fill="#9ac91e"/>
<rect x="79.16" y="279.12" width="14.66" height="13.81" fill="#0dc69a"/>
<rect x="93.32" y="279.12" width="14.66" height="13.81" fill="#04b1d6"/>
<rect x="107.48" y="279.12" width="14.66" height="13.81" fill="#0e8fee"/>
<rect x="121.65" y="279.12" width="14.66" height="13.81" fill="#2171fe"/>
<rect x="135.81" y="279.12" width="14.66" height="13.81" fill="#325dfc"/>
<rect x="149.97" y="279.12" width="14.66" height="13.81" fill="#3657fa"/>
<rect x="164.13" y="279.12" width="14.66" height="13.81" fill="#325dfc"/>
<rect x="178.29" y="279.12" width="14.66" height="13.81" fill="#2171fe"/>
<rect x="192.45" y="279.12" width="14.66" height="13.81" fill="#0e8fee"/>
<rect x="206.62" y="279.12" width="14.66" height="13.81" fill="#04b1d6"/>
<rect x="220.78" y="279.12" width="14.66" height="13.81" fill="#0dc69a"/>
<rect x="234.94" y="279.12" width="14.66" height="13.81" fill="#9ac91e"/>
<rect x="65" y="292.43" width="14.66" height="13.81" fill="#15ca5c"/>
<rect x="79.16" y="292.43" width="14.66" height="13.81" fill="#02bcbe"/>
<rect x="93.32" y="292.43" width="14.66" height="13.81" fill="#0899e7"/>
<rect x="107.48" y="292.43" width="14.66" height="13.81" fill="#2171fe"/>
<rect x="121.65" y="292.43" width="14.66" height="13.81" fill="#3952f6"/>
<rect x="135.81" y="292.43" width="14.66" height="13.81" fill="#453ae6"/>
<rect x="149.97" y="292.43" width="14.66" height="13.81" fill="#4436de"/>
<rect x="164.13" y="292.43" width="14.66" height="13.81" fill="#453ae6"/>
<rect x="178.29" y="292.43" width="14.66" height="13.81" fill="#3952f6"/>
<rect x="192.45" y="292.43" width="14.66" height="13.81" fill="#2171fe"/>
<rect x="206.62" y="292.43" width="14.66" height="13.81" fill="#0899e7"/>
<rect x="220.78" y="292.43" width="14.66" height="13.81" fill="#02bcbe"/>
<rect x="234.94" y="292.43" width="14.66" height="13.81" fill="#15ca5c"/>
<rect x="65" y="305.74" width="14.66" height="13.81" fill="#0fca6c"/>
<rect x="79.16" y="305.74" width="14.66" height="13.81" fill="#02b4d0"/>
<rect x="93.32" y="305.74" width="14.66" height="13.81" fill="#1189f2"/>
<rect x="107.48" y="305.74" width="14.66" height="13.81" fill="#325dfc"/>
<rect x="121.65" y="305.74" width="14.66" height="13.81" fill="#453ae6"/>
<rect x="135.81" y="305.74" width="14.66" height="13.81" fill="#422dc5"/>
<rect x="149.97" y="305.74" width="14.66" height="13.81" fill="#4029b7"/>
<rect x="164.13" y="305.74" width="14.66" height="13.81" fill="#422dc5"/>
<rect x="178.29" y="305.74" width="14.66" height="13.81" fill="#453ae6"/>
<rect x="192.45" y="305.74" width="14.66" height="13.81" fill="#325dfc"/>
<rect x="206.62" y="305.74" width="14.66" height="13.81" fill="#1189f2"/>
<rect x="220.78" y="305.74" width="14.66" height="13.81" fill="#02b4d0"/>
<rect x="234.94" y="305.74" width="14.66" height="13.81" fill="#0fca6c"/>
<rect x="65" y="319.05" width="14.66" height="13.81" fill="#10ca71"/>
<rect x="79.16" y="319.05" width="14.66" height="13.81" fill="#04b1d6"/>
<rect x="93.32" y="319.05" width="14.66" height="13.81" fill="#1484f6"/>
<rect x="107.48" y="319.05" width="14.66" height="13.81" fill="#3657fa"/>
<rect x="121.65" y="319.05" width="14.66" height="13.81" fill="#4436de"/>
<rect x="135.81" y="319.05" width="14.66" height="13.81" fill="#4029b7"/>
<rect x="149.97" y="319.05" width="14.66" height="13.81" fill="#3d25a8"/>
<rect x="164.13" y="319.05" width="14.66" height="13.81" fill="#4029b7"/>
<rect x="178.29" y="319.05" width="14.66" height="13.81" fill="#4436de"/>
<rect x="192.45" y="319.05" width="14.66" height="13.81" fill="#3657fa"/>
<rect x="206.62" y="319.05" width="14.66" height="13.81" fill="#1484f6"/>
<rect x="220.78" y="319.05" width="14.66" height="13.81" fill="#04b1d6"/>
<rect x="234.94" y="319.05" width="14.66" height="13.81" fill="#10ca71"/>
<rect x="65" y="332.35" width="14.66" height="13.81" fill="#0fca6c"/>
<rect x="79.16" y="332.35" width="14.66" height="13.81" fill="#02b4d0"/>
<rect x="93.32" y="332.35" width="14.66" height="13.81" fill="#1189f2"/>
<rect x="107.48" y="332.35" width="14.66" height="13.81" fill="#325dfc"/>
<rect x="121.65" y="332.35" width="14.66" height="13.81" fill="#453ae6"/>
<rect x="135.81" y="332.35" width="14.66" height="13.81" fill="#422dc5"/>
<rect x="149.97" y="332.35" width="14.66" height="13.81" fill="#4029b7"/>
<rect x="164.13" y="332.35" width="14.66" height="13.81" fill="#422dc5"/>
<rect x="178.29" y="332.35" width="14.66" height="13.81" fill="#453ae6"/>
<rect x="192.45" y="332.35" width="14.66" height="13.81" fill="#325dfc"/>
<rect x="206.62" y="332.35" width="14.66" height="13.81" fill="#1189f2"/>
<rect x="220.78" y="332.35" width="14.66" height="13.81" fill="#02b4d0"/>
<rect x="234.94" y="332.35" width="14.66" height="13.81" fill="#0fca6c"/>
<rect x="65" y="345.66" width="14.66" height="13.81" fill="#15ca5c"/>
<rect x="79.16" y="345.66" width="14.66" height="13.81" fill="#02bcbe"/>
<rect x="93.32" y="345.66" width="14.66" height="13.81" fill="#0899e7"/>
<rect x="107.48" y="345.66" width="14.66" height="13.81" fill="#2171fe"/>
<rect x="121.65" y="345.66" width="14.66" height="13.81" fill="#3952f6"/>
<rect x="135.81" y="345.66" width="14.66" height="13.81" fill="#453ae6"/>
<rect x="149.97" y="345.66" width="14.66" height="13.81" fill="#4436de"/>
<rect x="164.13" y="345.66" width="14.66" height="13.81" fill="#453ae6"/>
<rect x="178.29" y="345.66" width="14.66" height="13.81" fill="#3952f6"/>
<rect x="192.45" y="345.66" width="14.66" height="13.81" fill="#2171fe"/>
<rect x="206.62" y="345.66" width="14.66" height="13.81" fill="#0899e7"/>
<rect x="220.78" y="345.66" width="14.66" height="13.81" fill="#02bcbe"/>
<rect x="234.94" y="345.66" width="14.66" height="13.81" fill="#15ca5c"/>
<rect x="65" y="358.97" width="14.66" height="13.81" fill="#9ac91e"/>
<rect x="79.16" y="358.97" width="14.66" height="13.81" fill="#0dc69a"/>
<rect x="93.32" y="358.97" width="14.66" height="13.81" fill="#04b1d6"/>
<rect x="107.48" y="358.97" width="14.66" height="13.81" fill="#0e8fee"/>
<rect x="121.65" y="358.97" width="14.66" height="13.81" fill="#2171fe"/>
<rect x="135.81" y="358.97" width="14.66" height="13.81" fill="#325dfc"/>
<rect x="149.97" y="358.97" width="14.66" height="13.81" fill="#3657fa"/>
<rect x="164.13" y="358.97" width="14.66" height="13.81" fill="#325dfc"/>
<rect x="178.29" y="358.97" width="14.66" height="13.81" fill="#2171fe"/>
<rect x="192.45" y="358.97" width="14.66" height="13.81" fill="#0e8fee"/>
<rect x="206.62" y="358.97" width="14.66" height="13.81" fill="#04b1d6"/>
<rect x="220.78" y="358.97" width="14.66" height="13.81" fill="#0dc69a"/>
<rect x="234.94" y="358.97" width="14.66" height="13.81" fill="#9ac91e"/>
<rect x="65" y="372.28" width="14.66" height="13.81" fill="#f6b60f"/>
<rect x="79.16" y="372.28" width="14.66" height="13.81" fill="#31cc4c"/>
<rect x="93.32" y="372.28" width="14.66" height="13.81" fill="#09c2aa"/>
<rect x="107.48" y="372.28" width="14.66" height="13.81" fill="#04b1d6"/>
<rect x="121.65" y="372.28" width="14.66" height="13.81" fill="#0899e7"/>
<rect x="135.81" y="372.28" width="14.66" height="13.81" fill="#1189f2"/>
<rect x="149.97" y="372.28" width="14.66" height="13.81" fill="#1484f6"/>
<rect x="164.13" y="372.28" width="14.66" height="13.81" fill="#1189f2"/>
<rect x="178.29" y="372.28" width="14.66" height="13.81" fill="#0899e7"/>
<rect x="192.45" y="372.28" width="14.66" height="13.81" fill="#04b1d6"/>
<rect x="206.62" y="372.28" width="14.66" height="13.81" fill="#09c2aa"/>
<rect x="220.78" y="372.28" width="14.66" height="13.81" fill="#31cc4c"/>
<rect x="234.94" y="372.28" width="14.66" height="13.81" fill="#f6b60f"/>
<rect x="65" y="385.58" width="14.66" height="13.81" fill="#f8d70a"/>
<rect x="79.16" y="385.58" width="14.66" height="13.81" fill="#d6bd09"/>
<rect x="93.32" y="385.58" width="14.66" height="13.81" fill="#31cc4c"/>
<rect x="107.48" y="385.58" width="14.66" height="13.81" fill="#0dc69a"/>
<rect x="121.65" y="385.58" width="14.66" height="13.81" fill="#02bcbe"/>
<rect x="135.81" y="385.58" width="14.66" height="13.81" fill="#02b4d0"/>
<rect x="149.97" y="385.58" width="14.66" height="13.81" fill="#04b1d6"/>
<rect x="164.13" y="385.58" width="14.66" height="13.81" fill="#02b4d0"/>
<rect x="178.29" y="385.58" width="14.66" height="13.81" fill="#02bcbe"/>
<rect x="192.45" y="385.58" width="14.66" height="13.81" fill="#0dc69a"/>
<rect x="206.62" y="385.58" width="14.66" height="13.81" fill="#31cc4c"/>
<rect x="220.78" y="385.58" width="14.66" height="13.81" fill="#d6bd09"/>
<rect x="234.94" y="385.58" width="14.66" height="13.81" fill="#f8d70a"/>
<rect x="65" y="398.89" width="14.66" height="13.81" fill="#402ab9"/>
<rect x="79.16" y="398.89" width="14.66" height="13.81" fill="#f8d70a"/>
<rect x="93.32" y="398.89" width="14.66" height="13.81" fill="#f6b60f"/>
<rect x="107.48" y="398.89" width="14.66" height="13.81" fill="#9ac91e"/>
<rect x="121.65" y="398.89" width="14.66" height="13.81" fill="#15ca5c"/>
<rect x="135.81" y="398.89" width="14.66" height="13.81" fill="#0fca6c"/>
<rect x="149.97" y="398.89" width="14.66" height="13.81" fill="#10ca71"/>
<rect x="164.13" y="398.89" width="14.66" height="13.81" fill="#0fca6c"/>
<rect x="178.29" y="398.89" width="14.66" height="13.81" fill="#15ca5c"/>
<rect x="192.45" y="398.89" width="14.66" height="13.81" fill="#9ac91e"/>
<rect x="206.62" y="398.89" width="14.66" height="13.81" fill="#f6b60f"/>
<rect x="220.78" y="398.89" width="14.66" height="13.81" fill="#f8d70a"/>
<rect x="234.94" y="398.89" width="14.66" height="13.81" fill="#402ab9"/>
</g>
<rect x="249.1" y="239.2" width="3" height="176" fill="#fff"/>
<rect x="65" y="412.2" width="184.1" height="3" fill="#fff"/>
<path fill="none" stroke="#000" stroke-width="0.8" d="M65 239.2V412.6M65 246.1h-3.2M65 272.7h-3.2M65 299.3h-3.2M65 325.9h-3.2M65 352.5h-3.2M65 379.1h-3.2M65 405.7h-3.2M65 259.4h-1.8M65 286h-1.8M65 312.6h-1.8M65 339.2h-1.8M65 365.8h-1.8M65 392.4h-1.8"/>
<path fill="none" stroke="#000" stroke-width="0.8" d="M64.6 412.2H249.1M72.25 412.2v3.2M100.5 412.2v3.2M128.75 412.2v3.2M157 412.2v3.2M185.25 412.2v3.2M213.5 412.2v3.2M241.75 412.2v3.2M86.38 412.2v1.8M114.62 412.2v1.8M142.88 412.2v1.8M171.12 412.2v1.8M199.38 412.2v1.8M227.62 412.2v1.8"/>
<text font-family='"Liberation Serif", serif'><tspan x="6.5" y="258.9" font-size="29">(</tspan><tspan x="16.8" y="259.2" font-size="28.5" textLength="14.2" lengthAdjust="spacingAndGlyphs" stroke="#000" stroke-width="0.55">c</tspan><tspan x="31" y="258.9" font-size="29">)</tspan></text>
<text x="59.7" y="255.6" font-family='"Liberation Serif", serif' font-size="18.6" font-weight="bold" font-style="normal" text-anchor="end" fill="#000" stroke="#000" stroke-width="0.35">60</text>
<text x="59.7" y="281.5" font-family='"Liberation Serif", serif' font-size="18.6" font-weight="bold" font-style="normal" text-anchor="end" fill="#000" stroke="#000" stroke-width="0.35">40</text>
<text x="59.7" y="307.4" font-family='"Liberation Serif", serif' font-size="18.6" font-weight="bold" font-style="normal" text-anchor="end" fill="#000" stroke="#000" stroke-width="0.35">20</text>
<text x="59.7" y="333.3" font-family='"Liberation Serif", serif' font-size="18.6" font-weight="bold" font-style="normal" text-anchor="end" fill="#000" stroke="#000" stroke-width="0.35">0</text>
<text x="59.7" y="359.2" font-family='"Liberation Serif", serif' font-size="18.6" font-weight="bold" font-style="normal" text-anchor="end" fill="#000" stroke="#000" stroke-width="0.35">−20</text>
<text x="59.7" y="385.1" font-family='"Liberation Serif", serif' font-size="18.6" font-weight="bold" font-style="normal" text-anchor="end" fill="#000" stroke="#000" stroke-width="0.35">−40</text>
<text x="59.7" y="411" font-family='"Liberation Serif", serif' font-size="18.6" font-weight="bold" font-style="normal" text-anchor="end" fill="#000" stroke="#000" stroke-width="0.35">−60</text>
<text x="68.1" y="432" font-family='"Liberation Serif", serif' font-size="18.3" font-weight="bold" font-style="normal" text-anchor="middle" fill="#000" stroke="#000" stroke-width="0.35">−60</text>
<text x="99" y="432" font-family='"Liberation Serif", serif' font-size="18.3" font-weight="bold" font-style="normal" text-anchor="middle" fill="#000" stroke="#000" stroke-width="0.35">−40</text>
<text x="128.5" y="432" font-family='"Liberation Serif", serif' font-size="18.3" font-weight="bold" font-style="normal" text-anchor="middle" fill="#000" stroke="#000" stroke-width="0.35">−20</text>
<text x="157.3" y="432" font-family='"Liberation Serif", serif' font-size="18.3" font-weight="bold" font-style="normal" text-anchor="middle" fill="#000" stroke="#000" stroke-width="0.35">0</text>
<text x="185" y="432" font-family='"Liberation Serif", serif' font-size="18.3" font-weight="bold" font-style="normal" text-anchor="middle" fill="#000" stroke="#000" stroke-width="0.35">20</text>
<text x="212.4" y="432" font-family='"Liberation Serif", serif' font-size="18.3" font-weight="bold" font-style="normal" text-anchor="middle" fill="#000" stroke="#000" stroke-width="0.35">40</text>
<text x="241" y="432" font-family='"Liberation Serif", serif' font-size="18.3" font-weight="bold" font-style="normal" text-anchor="middle" fill="#000" stroke="#000" stroke-width="0.35">60</text>
<text font-family='"Liberation Serif", serif' font-weight="bold" stroke="#000" stroke-width="0.3"><tspan x="115.7" y="452.5" font-size="29.7" font-style="italic" textLength="13.5" lengthAdjust="spacingAndGlyphs">x</tspan><tspan x="128.2" y="452.9" font-size="28">(</tspan><tspan x="138.9" y="452.5" font-size="24">m</tspan><tspan x="160.7" y="452.5" font-size="24">m</tspan><tspan x="181.4" y="452.9" font-size="28">)</tspan></text>
<text transform="translate(28.2 227.7) rotate(-90)" font-family='"Liberation Serif", serif' font-weight="bold" stroke="#000" stroke-width="0.3"><tspan x="-140.8" y="0" font-size="28.6" font-style="italic" textLength="11.55" lengthAdjust="spacingAndGlyphs">y</tspan><tspan x="-127.4" y="0" font-size="30" font-weight="normal" stroke="#000" stroke-width="0">(</tspan><tspan x="-114.5" y="0" font-size="31" textLength="20.83" lengthAdjust="spacingAndGlyphs">m</tspan><tspan x="-90.7" y="0" font-size="31" textLength="20.83" lengthAdjust="spacingAndGlyphs">m</tspan><tspan x="-67.1" y="0" font-size="30" font-weight="normal" stroke="#000" stroke-width="0">)</tspan></text>
<g shape-rendering="crispEdges">
<rect x="314.4" y="237.6" width="14.81" height="13.96" fill="#00b8ca"/>
<rect x="328.71" y="237.6" width="14.81" height="13.96" fill="#2f62fd"/>
<rect x="343.02" y="237.6" width="14.81" height="13.96" fill="#f6dd0a"/>
<rect x="357.32" y="237.6" width="14.81" height="13.96" fill="#c0c30b"/>
<rect x="371.63" y="237.6" width="14.81" height="13.96" fill="#12cb79"/>
<rect x="385.94" y="237.6" width="14.81" height="13.96" fill="#06c0b3"/>
<rect x="400.25" y="237.6" width="14.81" height="13.96" fill="#01bcc0"/>
<rect x="414.55" y="237.6" width="14.81" height="13.96" fill="#06c0b3"/>
<rect x="428.86" y="237.6" width="14.81" height="13.96" fill="#12cb79"/>
<rect x="443.17" y="237.6" width="14.81" height="13.96" fill="#c0c30b"/>
<rect x="457.48" y="237.6" width="14.81" height="13.96" fill="#f6dd0a"/>
<rect x="471.78" y="237.6" width="14.81" height="13.96" fill="#2f62fd"/>
<rect x="486.09" y="237.6" width="14.81" height="13.96" fill="#00b8ca"/>
<rect x="314.4" y="251.06" width="14.81" height="13.96" fill="#2f62fd"/>
<rect x="328.71" y="251.06" width="14.81" height="13.96" fill="#fec60c"/>
<rect x="343.02" y="251.06" width="14.81" height="13.96" fill="#0dc963"/>
<rect x="357.32" y="251.06" width="14.81" height="13.96" fill="#04afd8"/>
<rect x="371.63" y="251.06" width="14.81" height="13.96" fill="#187cfa"/>
<rect x="385.94" y="251.06" width="14.81" height="13.96" fill="#3656f9"/>
<rect x="400.25" y="251.06" width="14.81" height="13.96" fill="#3c4bf1"/>
<rect x="414.55" y="251.06" width="14.81" height="13.96" fill="#3656f9"/>
<rect x="428.86" y="251.06" width="14.81" height="13.96" fill="#187cfa"/>
<rect x="443.17" y="251.06" width="14.81" height="13.96" fill="#04afd8"/>
<rect x="457.48" y="251.06" width="14.81" height="13.96" fill="#0dc963"/>
<rect x="471.78" y="251.06" width="14.81" height="13.96" fill="#fec60c"/>
<rect x="486.09" y="251.06" width="14.81" height="13.96" fill="#2f62fd"/>
<rect x="314.4" y="264.52" width="14.81" height="13.96" fill="#f6dd0a"/>
<rect x="328.71" y="264.52" width="14.81" height="13.96" fill="#0dc963"/>
<rect x="343.02" y="264.52" width="14.81" height="13.96" fill="#089ce5"/>
<rect x="357.32" y="264.52" width="14.81" height="13.96" fill="#3c4bf1"/>
<rect x="371.63" y="264.52" width="14.81" height="13.96" fill="#f5e908"/>
<rect x="385.94" y="264.52" width="14.81" height="13.96" fill="#fdb90f"/>
<rect x="400.25" y="264.52" width="14.81" height="13.96" fill="#eab80c"/>
<rect x="414.55" y="264.52" width="14.81" height="13.96" fill="#fdb90f"/>
<rect x="428.86" y="264.52" width="14.81" height="13.96" fill="#f5e908"/>
<rect x="443.17" y="264.52" width="14.81" height="13.96" fill="#3c4bf1"/>
<rect x="457.48" y="264.52" width="14.81" height="13.96" fill="#089ce5"/>
<rect x="471.78" y="264.52" width="14.81" height="13.96" fill="#0dc963"/>
<rect x="486.09" y="264.52" width="14.81" height="13.96" fill="#f6dd0a"/>
<rect x="314.4" y="277.98" width="14.81" height="13.96" fill="#c0c30b"/>
<rect x="328.71" y="277.98" width="14.81" height="13.96" fill="#04afd8"/>
<rect x="343.02" y="277.98" width="14.81" height="13.96" fill="#3c4bf1"/>
<rect x="357.32" y="277.98" width="14.81" height="13.96" fill="#fdc90c"/>
<rect x="371.63" y="277.98" width="14.81" height="13.96" fill="#2acb4f"/>
<rect x="385.94" y="277.98" width="14.81" height="13.96" fill="#0bc4a3"/>
<rect x="400.25" y="277.98" width="14.81" height="13.96" fill="#03beba"/>
<rect x="414.55" y="277.98" width="14.81" height="13.96" fill="#0bc4a3"/>
<rect x="428.86" y="277.98" width="14.81" height="13.96" fill="#2acb4f"/>
<rect x="443.17" y="277.98" width="14.81" height="13.96" fill="#fdc90c"/>
<rect x="457.48" y="277.98" width="14.81" height="13.96" fill="#3c4bf1"/>
<rect x="471.78" y="277.98" width="14.81" height="13.96" fill="#04afd8"/>
<rect x="486.09" y="277.98" width="14.81" height="13.96" fill="#c0c30b"/>
<rect x="314.4" y="291.45" width="14.81" height="13.96" fill="#12cb79"/>
<rect x="328.71" y="291.45" width="14.81" height="13.96" fill="#187cfa"/>
<rect x="343.02" y="291.45" width="14.81" height="13.96" fill="#f5e908"/>
<rect x="357.32" y="291.45" width="14.81" height="13.96" fill="#2acb4f"/>
<rect x="371.63" y="291.45" width="14.81" height="13.96" fill="#00bac4"/>
<rect x="385.94" y="291.45" width="14.81" height="13.96" fill="#1386f4"/>
<rect x="400.25" y="291.45" width="14.81" height="13.96" fill="#2072fe"/>
<rect x="414.55" y="291.45" width="14.81" height="13.96" fill="#1386f4"/>
<rect x="428.86" y="291.45" width="14.81" height="13.96" fill="#00bac4"/>
<rect x="443.17" y="291.45" width="14.81" height="13.96" fill="#2acb4f"/>
<rect x="457.48" y="291.45" width="14.81" height="13.96" fill="#f5e908"/>
<rect x="471.78" y="291.45" width="14.81" height="13.96" fill="#187cfa"/>
<rect x="486.09" y="291.45" width="14.81" height="13.96" fill="#12cb79"/>
<rect x="314.4" y="304.91" width="14.81" height="13.96" fill="#06c0b3"/>
<rect x="328.71" y="304.91" width="14.81" height="13.96" fill="#3656f9"/>
<rect x="343.02" y="304.91" width="14.81" height="13.96" fill="#fdb90f"/>
<rect x="357.32" y="304.91" width="14.81" height="13.96" fill="#0bc4a3"/>
<rect x="371.63" y="304.91" width="14.81" height="13.96" fill="#1386f4"/>
<rect x="385.94" y="304.91" width="14.81" height="13.96" fill="#3c49f0"/>
<rect x="400.25" y="304.91" width="14.81" height="13.96" fill="#4433d6"/>
<rect x="414.55" y="304.91" width="14.81" height="13.96" fill="#3c49f0"/>
<rect x="428.86" y="304.91" width="14.81" height="13.96" fill="#1386f4"/>
<rect x="443.17" y="304.91" width="14.81" height="13.96" fill="#0bc4a3"/>
<rect x="457.48" y="304.91" width="14.81" height="13.96" fill="#fdb90f"/>
<rect x="471.78" y="304.91" width="14.81" height="13.96" fill="#3656f9"/>
<rect x="486.09" y="304.91" width="14.81" height="13.96" fill="#06c0b3"/>
<rect x="314.4" y="318.37" width="14.81" height="13.96" fill="#01bcc0"/>
<rect x="328.71" y="318.37" width="14.81" height="13.96" fill="#3c4bf1"/>
<rect x="343.02" y="318.37" width="14.81" height="13.96" fill="#eab80c"/>
<rect x="357.32" y="318.37" width="14.81" height="13.96" fill="#03beba"/>
<rect x="371.63" y="318.37" width="14.81" height="13.96" fill="#2072fe"/>
<rect x="385.94" y="318.37" width="14.81" height="13.96" fill="#4433d6"/>
<rect x="400.25" y="318.37" width="14.81" height="13.96" fill="#3d25a8"/>
<rect x="414.55" y="318.37" width="14.81" height="13.96" fill="#4433d6"/>
<rect x="428.86" y="318.37" width="14.81" height="13.96" fill="#2072fe"/>
<rect x="443.17" y="318.37" width="14.81" height="13.96" fill="#03beba"/>
<rect x="457.48" y="318.37" width="14.81" height="13.96" fill="#eab80c"/>
<rect x="471.78" y="318.37" width="14.81" height="13.96" fill="#3c4bf1"/>
<rect x="486.09" y="318.37" width="14.81" height="13.96" fill="#01bcc0"/>
<rect x="314.4" y="331.83" width="14.81" height="13.96" fill="#06c0b3"/>
<rect x="328.71" y="331.83" width="14.81" height="13.96" fill="#3656f9"/>
<rect x="343.02" y="331.83" width="14.81" height="13.96" fill="#fdb90f"/>
<rect x="357.32" y="331.83" width="14.81" height="13.96" fill="#0bc4a3"/>
<rect x="371.63" y="331.83" width="14.81" height="13.96" fill="#1386f4"/>
<rect x="385.94" y="331.83" width="14.81" height="13.96" fill="#3c49f0"/>
<rect x="400.25" y="331.83" width="14.81" height="13.96" fill="#4433d6"/>
<rect x="414.55" y="331.83" width="14.81" height="13.96" fill="#3c49f0"/>
<rect x="428.86" y="331.83" width="14.81" height="13.96" fill="#1386f4"/>
<rect x="443.17" y="331.83" width="14.81" height="13.96" fill="#0bc4a3"/>
<rect x="457.48" y="331.83" width="14.81" height="13.96" fill="#fdb90f"/>
<rect x="471.78" y="331.83" width="14.81" height="13.96" fill="#3656f9"/>
<rect x="486.09" y="331.83" width="14.81" height="13.96" fill="#06c0b3"/>
<rect x="314.4" y="345.29" width="14.81" height="13.96" fill="#12cb79"/>
<rect x="328.71" y="345.29" width="14.81" height="13.96" fill="#187cfa"/>
<rect x="343.02" y="345.29" width="14.81" height="13.96" fill="#f5e908"/>
<rect x="357.32" y="345.29" width="14.81" height="13.96" fill="#2acb4f"/>
<rect x="371.63" y="345.29" width="14.81" height="13.96" fill="#00bac4"/>
<rect x="385.94" y="345.29" width="14.81" height="13.96" fill="#1386f4"/>
<rect x="400.25" y="345.29" width="14.81" height="13.96" fill="#2072fe"/>
<rect x="414.55" y="345.29" width="14.81" height="13.96" fill="#1386f4"/>
<rect x="428.86" y="345.29" width="14.81" height="13.96" fill="#00bac4"/>
<rect x="443.17" y="345.29" width="14.81" height="13.96" fill="#2acb4f"/>
<rect x="457.48" y="345.29" width="14.81" height="13.96" fill="#f5e908"/>
<rect x="471.78" y="345.29" width="14.81" height="13.96" fill="#187cfa"/>
<rect x="486.09" y="345.29" width="14.81" height="13.96" fill="#12cb79"/>
<rect x="314.4" y="358.75" width="14.81" height="13.96" fill="#c0c30b"/>
<rect x="328.71" y="358.75" width="14.81" height="13.96" fill="#04afd8"/>
<rect x="343.02" y="358.75" width="14.81" height="13.96" fill="#3c4bf1"/>
<rect x="357.32" y="358.75" width="14.81" height="13.96" fill="#fdc90c"/>
<rect x="371.63" y="358.75" width="14.81" height="13.96" fill="#2acb4f"/>
<rect x="385.94" y="358.75" width="14.81" height="13.96" fill="#0bc4a3"/>
<rect x="400.25" y="358.75" width="14.81" height="13.96" fill="#03beba"/>
<rect x="414.55" y="358.75" width="14.81" height="13.96" fill="#0bc4a3"/>
<rect x="428.86" y="358.75" width="14.81" height="13.96" fill="#2acb4f"/>
<rect x="443.17" y="358.75" width="14.81" height="13.96" fill="#fdc90c"/>
<rect x="457.48" y="358.75" width="14.81" height="13.96" fill="#3c4bf1"/>
<rect x="471.78" y="358.75" width="14.81" height="13.96" fill="#04afd8"/>
<rect x="486.09" y="358.75" width="14.81" height="13.96" fill="#c0c30b"/>
<rect x="314.4" y="372.22" width="14.81" height="13.96" fill="#f6dd0a"/>
<rect x="328.71" y="372.22" width="14.81" height="13.96" fill="#0dc963"/>
<rect x="343.02" y="372.22" width="14.81" height="13.96" fill="#089ce5"/>
<rect x="357.32" y="372.22" width="14.81" height="13.96" fill="#3c4bf1"/>
<rect x="371.63" y="372.22" width="14.81" height="13.96" fill="#f5e908"/>
<rect x="385.94" y="372.22" width="14.81" height="13.96" fill="#fdb90f"/>
<rect x="400.25" y="372.22" width="14.81" height="13.96" fill="#eab80c"/>
<rect x="414.55" y="372.22" width="14.81" height="13.96" fill="#fdb90f"/>
<rect x="428.86" y="372.22" width="14.81" height="13.96" fill="#f5e908"/>
<rect x="443.17" y="372.22" width="14.81" height="13.96" fill="#3c4bf1"/>
<rect x="457.48" y="372.22" width="14.81" height="13.96" fill="#089ce5"/>
<rect x="471.78" y="372.22" width="14.81" height="13.96" fill="#0dc963"/>
<rect x="486.09" y="372.22" width="14.81" height="13.96" fill="#f6dd0a"/>
<rect x="314.4" y="385.68" width="14.81" height="13.96" fill="#2f62fd"/>
<rect x="328.71" y="385.68" width="14.81" height="13.96" fill="#fec60c"/>
<rect x="343.02" y="385.68" width="14.81" height="13.96" fill="#0dc963"/>
<rect x="357.32" y="385.68" width="14.81" height="13.96" fill="#04afd8"/>
<rect x="371.63" y="385.68" width="14.81" height="13.96" fill="#187cfa"/>
<rect x="385.94" y="385.68" width="14.81" height="13.96" fill="#3656f9"/>
<rect x="400.25" y="385.68" width="14.81" height="13.96" fill="#3c4bf1"/>
<rect x="414.55" y="385.68" width="14.81" height="13.96" fill="#3656f9"/>
<rect x="428.86" y="385.68" width="14.81" height="13.96" fill="#187cfa"/>
<rect x="443.17" y="385.68" width="14.81" height="13.96" fill="#04afd8"/>
<rect x="457.48" y="385.68" width="14.81" height="13.96" fill="#0dc963"/>
<rect x="471.78" y="385.68" width="14.81" height="13.96" fill="#fec60c"/>
<rect x="486.09" y="385.68" width="14.81" height="13.96" fill="#2f62fd"/>
<rect x="314.4" y="399.14" width="14.81" height="13.96" fill="#00b8ca"/>
<rect x="328.71" y="399.14" width="14.81" height="13.96" fill="#2f62fd"/>
<rect x="343.02" y="399.14" width="14.81" height="13.96" fill="#f6dd0a"/>
<rect x="357.32" y="399.14" width="14.81" height="13.96" fill="#c0c30b"/>
<rect x="371.63" y="399.14" width="14.81" height="13.96" fill="#12cb79"/>
<rect x="385.94" y="399.14" width="14.81" height="13.96" fill="#06c0b3"/>
<rect x="400.25" y="399.14" width="14.81" height="13.96" fill="#01bcc0"/>
<rect x="414.55" y="399.14" width="14.81" height="13.96" fill="#06c0b3"/>
<rect x="428.86" y="399.14" width="14.81" height="13.96" fill="#12cb79"/>
<rect x="443.17" y="399.14" width="14.81" height="13.96" fill="#c0c30b"/>
<rect x="457.48" y="399.14" width="14.81" height="13.96" fill="#f6dd0a"/>
<rect x="471.78" y="399.14" width="14.81" height="13.96" fill="#2f62fd"/>
<rect x="486.09" y="399.14" width="14.81" height="13.96" fill="#00b8ca"/>
</g>
<rect x="500.4" y="237.6" width="3" height="178" fill="#fff"/>
<rect x="314.4" y="412.6" width="186" height="3" fill="#fff"/>
<path fill="none" stroke="#000" stroke-width="0.8" d="M314.4 237.6V413M314.4 246.2h-3.2M314.4 272.7h-3.2M314.4 299.2h-3.2M314.4 325.7h-3.2M314.4 352.2h-3.2M314.4 378.7h-3.2M314.4 405.2h-3.2M314.4 259.45h-1.8M314.4 285.95h-1.8M314.4 312.45h-1.8M314.4 338.95h-1.8M314.4 365.45h-1.8M314.4 391.95h-1.8"/>
<path fill="none" stroke="#000" stroke-width="0.8" d="M314 412.6H500.4M322.4 412.6v3.2M350.7 412.6v3.2M379 412.6v3.2M407.3 412.6v3.2M435.6 412.6v3.2M463.9 412.6v3.2M492.2 412.6v3.2M336.55 412.6v1.8M364.85 412.6v1.8M393.15 412.6v1.8M421.45 412.6v1.8M449.75 412.6v1.8M478.05 412.6v1.8"/>
<text x="255.9" y="257.3" font-family='"Liberation Serif", serif' font-size="28.4" font-weight="normal" font-style="normal" text-anchor="start" fill="#000" letter-spacing="1.0" stroke="#000" stroke-width="0.3">(d)</text>
<text x="310.2" y="255.6" font-family='"Liberation Serif", serif' font-size="18.6" font-weight="bold" font-style="normal" text-anchor="end" fill="#000" stroke="#000" stroke-width="0.35">60</text>
<text x="310.2" y="281.55" font-family='"Liberation Serif", serif' font-size="18.6" font-weight="bold" font-style="normal" text-anchor="end" fill="#000" stroke="#000" stroke-width="0.35">40</text>
<text x="310.2" y="307.5" font-family='"Liberation Serif", serif' font-size="18.6" font-weight="bold" font-style="normal" text-anchor="end" fill="#000" stroke="#000" stroke-width="0.35">20</text>
<text x="310.2" y="333.45" font-family='"Liberation Serif", serif' font-size="18.6" font-weight="bold" font-style="normal" text-anchor="end" fill="#000" stroke="#000" stroke-width="0.35">0</text>
<text x="310.2" y="359.4" font-family='"Liberation Serif", serif' font-size="18.6" font-weight="bold" font-style="normal" text-anchor="end" fill="#000" stroke="#000" stroke-width="0.35">−20</text>
<text x="310.2" y="385.35" font-family='"Liberation Serif", serif' font-size="18.6" font-weight="bold" font-style="normal" text-anchor="end" fill="#000" stroke="#000" stroke-width="0.35">−40</text>
<text x="310.2" y="411.3" font-family='"Liberation Serif", serif' font-size="18.6" font-weight="bold" font-style="normal" text-anchor="end" fill="#000" stroke="#000" stroke-width="0.35">−60</text>
<text x="317.5" y="432.3" font-family='"Liberation Serif", serif' font-size="18.3" font-weight="bold" font-style="normal" text-anchor="middle" fill="#000" stroke="#000" stroke-width="0.35">−60</text>
<text x="348.5" y="432.3" font-family='"Liberation Serif", serif' font-size="18.3" font-weight="bold" font-style="normal" text-anchor="middle" fill="#000" stroke="#000" stroke-width="0.35">−40</text>
<text x="378.5" y="432.3" font-family='"Liberation Serif", serif' font-size="18.3" font-weight="bold" font-style="normal" text-anchor="middle" fill="#000" stroke="#000" stroke-width="0.35">−20</text>
<text x="407.8" y="432.3" font-family='"Liberation Serif", serif' font-size="18.3" font-weight="bold" font-style="normal" text-anchor="middle" fill="#000" stroke="#000" stroke-width="0.35">0</text>
<text x="435.8" y="432.3" font-family='"Liberation Serif", serif' font-size="18.3" font-weight="bold" font-style="normal" text-anchor="middle" fill="#000" stroke="#000" stroke-width="0.35">20</text>
<text x="463.6" y="432.3" font-family='"Liberation Serif", serif' font-size="18.3" font-weight="bold" font-style="normal" text-anchor="middle" fill="#000" stroke="#000" stroke-width="0.35">40</text>
<text x="492" y="432.3" font-family='"Liberation Serif", serif' font-size="18.3" font-weight="bold" font-style="normal" text-anchor="middle" fill="#000" stroke="#000" stroke-width="0.35">60</text>
<text font-family='"Liberation Serif", serif' font-weight="bold" stroke="#000" stroke-width="0.3"><tspan x="366.1" y="452.3" font-size="29.7" font-style="italic" textLength="13.5" lengthAdjust="spacingAndGlyphs">x</tspan><tspan x="378.6" y="452.7" font-size="28">(</tspan><tspan x="389.3" y="452.3" font-size="24">m</tspan><tspan x="411.1" y="452.3" font-size="24">m</tspan><tspan x="431.8" y="452.7" font-size="28">)</tspan></text>
<text transform="translate(280.7 228.7) rotate(-90)" font-family='"Liberation Serif", serif' font-weight="bold" stroke="#000" stroke-width="0.3"><tspan x="-140.8" y="0" font-size="28.6" font-style="italic" textLength="11.55" lengthAdjust="spacingAndGlyphs">y</tspan><tspan x="-127.4" y="0" font-size="30" font-weight="normal" stroke="#000" stroke-width="0">(</tspan><tspan x="-114.5" y="0" font-size="31" textLength="20.83" lengthAdjust="spacingAndGlyphs">m</tspan><tspan x="-90.7" y="0" font-size="31" textLength="20.83" lengthAdjust="spacingAndGlyphs">m</tspan><tspan x="-67.1" y="0" font-size="30" font-weight="normal" stroke="#000" stroke-width="0">)</tspan></text>
<defs><linearGradient id="cb" x1="0" y1="1" x2="0" y2="0">
<stop offset="0" stop-color="#3d25a8"/>
<stop offset="0.0083" stop-color="#3e27af"/>
<stop offset="0.0167" stop-color="#3f28b5"/>
<stop offset="0.025" stop-color="#402abb"/>
<stop offset="0.0333" stop-color="#412cc1"/>
<stop offset="0.0417" stop-color="#422ec7"/>
<stop offset="0.05" stop-color="#4330cc"/>
<stop offset="0.0583" stop-color="#4331d2"/>
<stop offset="0.0667" stop-color="#4433d7"/>
<stop offset="0.075" stop-color="#4435dc"/>
<stop offset="0.0833" stop-color="#4537e0"/>
<stop offset="0.0917" stop-color="#4539e4"/>
<stop offset="0.1" stop-color="#453be7"/>
<stop offset="0.1083" stop-color="#453dea"/>
<stop offset="0.1167" stop-color="#3d46ed"/>
<stop offset="0.125" stop-color="#3c49ef"/>
<stop offset="0.1333" stop-color="#3b4bf2"/>
<stop offset="0.1417" stop-color="#3a4ef4"/>
<stop offset="0.15" stop-color="#3951f6"/>
<stop offset="0.1583" stop-color="#3854f8"/>
<stop offset="0.1667" stop-color="#3656f9"/>
<stop offset="0.175" stop-color="#3559fb"/>
<stop offset="0.1833" stop-color="#335cfc"/>
<stop offset="0.1917" stop-color="#315ffd"/>
<stop offset="0.2" stop-color="#2f62fd"/>
<stop offset="0.2083" stop-color="#2c65fe"/>
<stop offset="0.2167" stop-color="#2a68fe"/>
<stop offset="0.225" stop-color="#276bff"/>
<stop offset="0.2333" stop-color="#236ffe"/>
<stop offset="0.2417" stop-color="#2072fe"/>
<stop offset="0.25" stop-color="#1d76fd"/>
<stop offset="0.2583" stop-color="#1a79fc"/>
<stop offset="0.2667" stop-color="#187cfa"/>
<stop offset="0.275" stop-color="#167ff9"/>
<stop offset="0.2833" stop-color="#1582f7"/>
<stop offset="0.2917" stop-color="#1385f5"/>
<stop offset="0.3" stop-color="#1287f3"/>
<stop offset="0.3083" stop-color="#118af1"/>
<stop offset="0.3167" stop-color="#0f8def"/>
<stop offset="0.325" stop-color="#0d90ed"/>
<stop offset="0.3333" stop-color="#0b93eb"/>
<stop offset="0.3417" stop-color="#0a96e9"/>
<stop offset="0.35" stop-color="#0998e7"/>
<stop offset="0.3583" stop-color="#089be6"/>
<stop offset="0.3667" stop-color="#089ee5"/>
<stop offset="0.375" stop-color="#07a0e3"/>
<stop offset="0.3833" stop-color="#07a3e2"/>
<stop offset="0.3917" stop-color="#07a6e0"/>
<stop offset="0.4" stop-color="#06a8df"/>
<stop offset="0.4083" stop-color="#06abdc"/>
<stop offset="0.4167" stop-color="#05adda"/>
<stop offset="0.425" stop-color="#04afd7"/>
<stop offset="0.4333" stop-color="#03b2d4"/>
<stop offset="0.4417" stop-color="#02b4d1"/>
<stop offset="0.45" stop-color="#01b6ce"/>
<stop offset="0.4583" stop-color="#00b7cb"/>
<stop offset="0.4667" stop-color="#00b9c7"/>
<stop offset="0.475" stop-color="#00bac4"/>
<stop offset="0.4833" stop-color="#01bcc0"/>
<stop offset="0.4917" stop-color="#02bdbd"/>
<stop offset="0.5" stop-color="#04beb9"/>
<stop offset="0.5083" stop-color="#06bfb5"/>
<stop offset="0.5167" stop-color="#07c0b1"/>
<stop offset="0.525" stop-color="#09c2ad"/>
<stop offset="0.5333" stop-color="#0ac3a9"/>
<stop offset="0.5417" stop-color="#0bc4a4"/>
<stop offset="0.55" stop-color="#0cc5a0"/>
<stop offset="0.5583" stop-color="#0dc69b"/>
<stop offset="0.5667" stop-color="#0ec796"/>
<stop offset="0.575" stop-color="#0fc890"/>
<stop offset="0.5833" stop-color="#10c98b"/>
<stop offset="0.5917" stop-color="#12ca85"/>
<stop offset="0.6" stop-color="#12cb79"/>
<stop offset="0.6083" stop-color="#10ca73"/>
<stop offset="0.6167" stop-color="#0fca6c"/>
<stop offset="0.625" stop-color="#0dc966"/>
<stop offset="0.6333" stop-color="#12ca5f"/>
<stop offset="0.6417" stop-color="#1bcb57"/>
<stop offset="0.65" stop-color="#2acb4f"/>
<stop offset="0.6583" stop-color="#3bcc47"/>
<stop offset="0.6667" stop-color="#50cc3e"/>
<stop offset="0.675" stop-color="#67cb35"/>
<stop offset="0.6833" stop-color="#7bca2c"/>
<stop offset="0.6917" stop-color="#8fc923"/>
<stop offset="0.7" stop-color="#9dc81c"/>
<stop offset="0.7083" stop-color="#a8c716"/>
<stop offset="0.7167" stop-color="#afc612"/>
<stop offset="0.725" stop-color="#b4c50e"/>
<stop offset="0.7333" stop-color="#bbc40c"/>
<stop offset="0.7417" stop-color="#c2c20b"/>
<stop offset="0.75" stop-color="#c8c10a"/>
<stop offset="0.7583" stop-color="#cfbf09"/>
<stop offset="0.7667" stop-color="#d4bd09"/>
<stop offset="0.775" stop-color="#dabc09"/>
<stop offset="0.7833" stop-color="#e0ba0a"/>
<stop offset="0.7917" stop-color="#e5b90b"/>
<stop offset="0.8" stop-color="#eab80c"/>
<stop offset="0.8083" stop-color="#efb70d"/>
<stop offset="0.8167" stop-color="#f3b60e"/>
<stop offset="0.825" stop-color="#f8b60f"/>
<stop offset="0.8333" stop-color="#fbb70f"/>
<stop offset="0.8417" stop-color="#feb90f"/>
<stop offset="0.85" stop-color="#febd0e"/>
<stop offset="0.8583" stop-color="#fec00e"/>
<stop offset="0.8667" stop-color="#fec40d"/>
<stop offset="0.875" stop-color="#fec70c"/>
<stop offset="0.8833" stop-color="#fdcb0c"/>
<stop offset="0.8917" stop-color="#fcce0b"/>
<stop offset="0.9" stop-color="#fad20b"/>
<stop offset="0.9083" stop-color="#f9d60a"/>
<stop offset="0.9167" stop-color="#f7d90a"/>
<stop offset="0.925" stop-color="#f6dd0a"/>
<stop offset="0.9333" stop-color="#f5e109"/>
<stop offset="0.9417" stop-color="#f5e409"/>
<stop offset="0.95" stop-color="#f5e708"/>
<stop offset="0.9583" stop-color="#f5eb08"/>
<stop offset="0.9667" stop-color="#f5ee07"/>
<stop offset="0.975" stop-color="#f6f107"/>
<stop offset="0.9833" stop-color="#f7f506"/>
<stop offset="0.9917" stop-color="#f8f805"/>
<stop offset="1" stop-color="#f9fb04"/>
</linearGradient></defs>
<rect x="511.2" y="239.2" width="15" height="174.6" fill="url(#cb)" stroke="#5a4a28" stroke-width="0.5"/>
<path d="M526.2 413.8h-1.5" stroke="#444" stroke-width="0.5"/>
<text x="529.5" y="416.6" font-family='"Liberation Sans", sans-serif' font-size="8" font-weight="normal" font-style="normal" text-anchor="start" fill="#3a3a3a">0</text>
<path d="M526.2 389.55h-1.5" stroke="#444" stroke-width="0.5"/>
<text x="529.5" y="392.35" font-family='"Liberation Sans", sans-serif' font-size="8" font-weight="normal" font-style="normal" text-anchor="start" fill="#3a3a3a">50</text>
<path d="M526.2 365.3h-1.5" stroke="#444" stroke-width="0.5"/>
<text x="529.5" y="368.1" font-family='"Liberation Sans", sans-serif' font-size="8" font-weight="normal" font-style="normal" text-anchor="start" fill="#3a3a3a">100</text>
<path d="M526.2 341.05h-1.5" stroke="#444" stroke-width="0.5"/>
<text x="529.5" y="343.85" font-family='"Liberation Sans", sans-serif' font-size="8" font-weight="normal" font-style="normal" text-anchor="start" fill="#3a3a3a">150</text>
<path d="M526.2 316.8h-1.5" stroke="#444" stroke-width="0.5"/>
<text x="529.5" y="319.6" font-family='"Liberation Sans", sans-serif' font-size="8" font-weight="normal" font-style="normal" text-anchor="start" fill="#3a3a3a">200</text>
<path d="M526.2 292.55h-1.5" stroke="#444" stroke-width="0.5"/>
<text x="529.5" y="295.35" font-family='"Liberation Sans", sans-serif' font-size="8" font-weight="normal" font-style="normal" text-anchor="start" fill="#3a3a3a">250</text>
<path d="M526.2 268.3h-1.5" stroke="#444" stroke-width="0.5"/>
<text x="529.5" y="271.1" font-family='"Liberation Sans", sans-serif' font-size="8" font-weight="normal" font-style="normal" text-anchor="start" fill="#3a3a3a">300</text>
<path d="M526.2 244.05h-1.5" stroke="#444" stroke-width="0.5"/>
<text x="529.5" y="246.85" font-family='"Liberation Sans", sans-serif' font-size="8" font-weight="normal" font-style="normal" text-anchor="start" fill="#3a3a3a">350</text>
</g>
</svg>
</body></html>
